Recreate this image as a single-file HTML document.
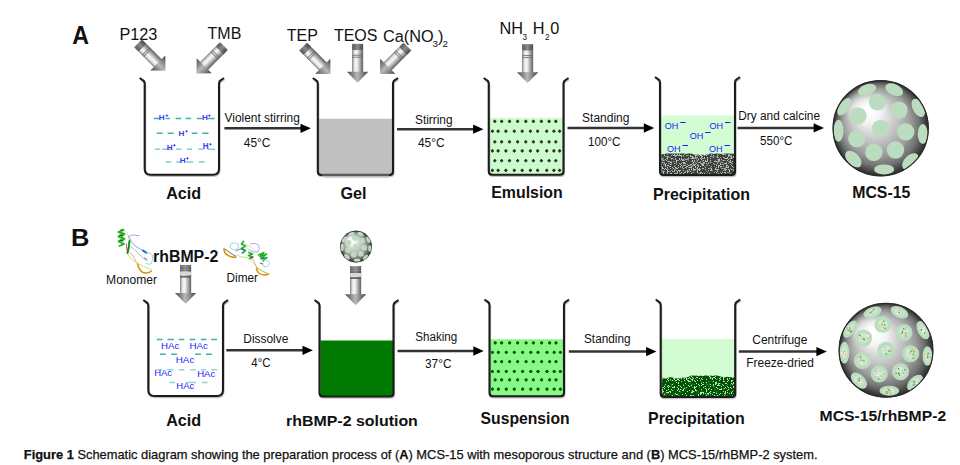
<!DOCTYPE html>
<html><head><meta charset="utf-8"><style>
html,body{margin:0;padding:0;background:#fff;}
body{width:960px;height:465px;overflow:hidden;}
svg{display:block;font-family:"Liberation Sans", sans-serif;}
</style></head><body>
<svg width="960" height="465" viewBox="0 0 960 465">
<defs>
<linearGradient id="gshaft" x1="0" y1="0" x2="1" y2="0">
<stop offset="0" stop-color="#8c8c8c"/><stop offset="0.2" stop-color="#e2e2e2"/><stop offset="0.4" stop-color="#f8f8f8"/><stop offset="0.62" stop-color="#c6c6c6"/><stop offset="0.85" stop-color="#8a8a8a"/><stop offset="1" stop-color="#5a5a5a"/>
</linearGradient>
<linearGradient id="gband" x1="0" y1="0" x2="1" y2="0">
<stop offset="0" stop-color="#5a5a5a"/><stop offset="0.5" stop-color="#8a8a8a"/><stop offset="1" stop-color="#4a4a4a"/>
</linearGradient>
<linearGradient id="ghead" x1="0" y1="0" x2="1" y2="0">
<stop offset="0" stop-color="#4a4a4a"/><stop offset="0.3" stop-color="#8c8c8c"/><stop offset="0.48" stop-color="#b8b8b8"/><stop offset="0.7" stop-color="#8a8a8a"/><stop offset="1" stop-color="#3c3c3c"/>
</linearGradient>
<g id="garrow">
<rect x="-5.35" y="0" width="10.7" height="28.5" fill="url(#gshaft)" stroke="#777" stroke-width="0.5"/>
<rect x="-5.35" y="0" width="10.7" height="6" rx="1.5" fill="url(#gband)"/>
<rect x="-5.35" y="10.6" width="10.7" height="1" fill="#6a6a6a" opacity="0.85"/>
<rect x="-5.35" y="12.6" width="10.7" height="1" fill="#6a6a6a" opacity="0.85"/>
<polygon points="-10.65,27.7 10.65,27.7 0,38.6" fill="url(#ghead)"/>
</g>
<g id="garrowB">
<rect x="-5.35" y="0" width="10.7" height="28.5" fill="url(#gshaft)" stroke="#777" stroke-width="0.5"/>
<rect x="-5.35" y="0" width="10.7" height="6.4" fill="url(#gband)"/>
<rect x="-5.35" y="1.2" width="10.7" height="0.8" fill="#aaa" opacity="0.7"/>
<rect x="-5.35" y="3.6" width="10.7" height="0.8" fill="#aaa" opacity="0.7"/>
<rect x="-5.35" y="6.4" width="10.7" height="3.8" fill="#d8d8d8"/>
<rect x="-5.35" y="10.6" width="10.7" height="1.8" fill="#5a5a5a" opacity="0.9"/>
<polygon points="-10.65,27.7 10.65,27.7 0,38.6" fill="url(#ghead)"/>
</g>
<radialGradient id="gsph" cx="0.5" cy="0.5" r="0.5" fx="0.36" fy="0.3">
<stop offset="0" stop-color="#ffffff"/><stop offset="0.22" stop-color="#f0f0f0"/><stop offset="0.48" stop-color="#c4c4c4"/><stop offset="0.7" stop-color="#9c9c9c"/><stop offset="0.85" stop-color="#707070"/><stop offset="0.94" stop-color="#454545"/><stop offset="1" stop-color="#2a2a2a"/>
</radialGradient>
<filter id="soft" x="-5%" y="-5%" width="110%" height="110%"><feGaussianBlur stdDeviation="0.35"/></filter>
<filter id="hblur" x="-50%" y="-50%" width="200%" height="200%"><feGaussianBlur stdDeviation="4"/></filter>
<filter id="pblur" x="-20%" y="-20%" width="140%" height="140%"><feGaussianBlur stdDeviation="0.3"/></filter>
<clipPath id="sclip"><circle cx="0" cy="0" r="48"/></clipPath>
<g id="sphere">
<circle cx="0" cy="0" r="48" fill="url(#gsph)"/>
<ellipse cx="-17" cy="-19" rx="17" ry="13" fill="#fff" opacity="0.6" filter="url(#hblur)"/>
<g clip-path="url(#sclip)" fill="#bcdcbf">
<ellipse cx="-13.7" cy="-38.5" rx="9.5" ry="5.2" transform="rotate(-20 -13.7 -38.5)"/>
<ellipse cx="13.6" cy="-38.5" rx="9.5" ry="5.5" transform="rotate(25 13.6 -38.5)"/>
<ellipse cx="-36.5" cy="-21.4" rx="5" ry="10" transform="rotate(35 -36.5 -21.4)"/>
<circle cx="-3.4" cy="-26.0" r="8.4"/>
<circle cx="-22.8" cy="-12.3" r="8.7"/>
<circle cx="18.2" cy="-18.0" r="8.7"/>
<ellipse cx="37.6" cy="-20.3" rx="5.5" ry="10" transform="rotate(-28 37.6 -20.3)"/>
<ellipse cx="-42.2" cy="2.5" rx="5" ry="11" transform="rotate(0 -42.2 2.5)"/>
<circle cx="0.0" cy="0.2" r="8.7"/>
<circle cx="25.0" cy="3.6" r="8.7"/>
<ellipse cx="42.1" cy="5.9" rx="5" ry="10" transform="rotate(0 42.1 5.9)"/>
<circle cx="-23.9" cy="10.4" r="8.7"/>
<circle cx="-6.9" cy="24.1" r="8.7"/>
<circle cx="14.8" cy="21.8" r="8.7"/>
<ellipse cx="-27.4" cy="30.9" rx="10" ry="6" transform="rotate(45 -27.4 30.9)"/>
<ellipse cx="29.6" cy="33.2" rx="10" ry="6" transform="rotate(-45 29.6 33.2)"/>
<ellipse cx="3.4" cy="41.2" rx="10" ry="5" transform="rotate(0 3.4 41.2)"/>
</g>
<circle cx="0" cy="0" r="47.6" fill="none" stroke="#2a2a2a" stroke-width="1.2"/>
</g>
</defs>

<text x="72.27" y="44.25" font-size="24.90" font-weight="bold" textLength="16.74" lengthAdjust="spacingAndGlyphs" fill="#111">A</text>
<text x="119.4" y="40" font-size="16.3" fill="#111">P123</text>
<text x="207.6" y="39" font-size="16" fill="#111">TMB</text>
<text x="286.8" y="40.8" font-size="16" fill="#111">TEP</text>
<text x="333.9" y="40.8" font-size="16" textLength="43.5" lengthAdjust="spacingAndGlyphs" fill="#111">TEOS</text>
<text x="383" y="41.8" font-size="16.3" fill="#111">Ca(NO</text>
<text x="432.6" y="46.8" font-size="9.8" fill="#111">3</text>
<text x="438" y="41.8" font-size="16.3" fill="#111">)</text>
<text x="442.6" y="46.8" font-size="9.8" fill="#111">2</text>
<text x="499.4" y="34" font-size="16.3" fill="#111">NH</text>
<text x="522.4" y="39.8" font-size="8.2" fill="#111">3</text>
<text x="532.7" y="34" font-size="16.3" fill="#111">H</text>
<text x="544.9" y="39.8" font-size="8.2" fill="#111">2</text>
<text x="550.3" y="34" font-size="16.3" fill="#111">0</text>
<use href="#garrow" transform="translate(138.2,43.5) rotate(-45)"/>
<use href="#garrow" transform="translate(223.8,46.2) rotate(45)"/>
<use href="#garrow" transform="translate(303.2,46.7) rotate(-45)"/>
<use href="#garrow" transform="translate(407.3,46.7) rotate(45)"/>
<use href="#garrow" transform="translate(357.6,44.1) rotate(0)"/>
<use href="#garrow" transform="translate(527.6,44.5) rotate(0)"/>
<path d="M139.7,78 L142.5,80 Q144.7,81.2 144.7,83.5 L144.7,168.7 Q144.7,174.7 150.7,174.7 L213,174.7 Q219,174.7 219,168.7 L219,83.5 Q219,81.2 221.2,80 L224,78" transform="translate(0.6,1.2)" fill="none" stroke="#9a9a9a" stroke-width="2" opacity="0.6"/><path d="M139.7,78 L142.5,80 Q144.7,81.2 144.7,83.5 L144.7,168.7 Q144.7,174.7 150.7,174.7 L213,174.7 Q219,174.7 219,168.7 L219,83.5 Q219,81.2 221.2,80 L224,78" fill="none" stroke="#1c1c1c" stroke-width="2.1" stroke-linejoin="round"/>
<path d="M153.8,118.6H160M165.6,118.6H170M175.6,118.6H181.2M185.6,118.6H191.2M196.9,118.6H202.5M207.5,118.6H214.6M156.8,133.3H162.6M167.6,133.3H173.7M191.7,133.3H197.4M202.2,133.3H208.5" stroke="#3fb0b0" stroke-width="1.5" fill="none"/>
<path d="M155,149.2H159.8M162.2,149.2H167.2M167.2,149.2H172.6M176.2,149.2H181.6M187,149.2H192M198.3,149.2H203.3M207.8,149.2H215M165.8,161.9H171.2M176.2,161.9H181.2M186.1,161.9H193.4M198.8,161.9H204.7" stroke="#6cc4c4" stroke-width="1.5" fill="none" opacity="0.85"/>
<text x="158.85" y="120" font-size="7.82" font-weight="bold" fill="#3b3bf6" textLength="5.9" lengthAdjust="spacingAndGlyphs">H</text><path d="M165.70000000000002,115.6H168.1M166.9,114.39999999999999V116.8" stroke="#3030ff" stroke-width="0.85"/>
<text x="201.95" y="120" font-size="7.82" font-weight="bold" fill="#3b3bf6" textLength="5.9" lengthAdjust="spacingAndGlyphs">H</text><path d="M208.20000000000002,115.6H210.6M209.4,114.39999999999999V116.8" stroke="#3030ff" stroke-width="0.85"/>
<text x="178.54999999999998" y="135.8" font-size="8.10" font-weight="bold" fill="#3b3bf6" textLength="5.9" lengthAdjust="spacingAndGlyphs">H</text><path d="M185.4,131.3H187.79999999999998M186.6,130.10000000000002V132.5" stroke="#3030ff" stroke-width="0.85"/>
<text x="166.64999999999998" y="149.8" font-size="8.10" font-weight="bold" fill="#3b3bf6" textLength="5.9" lengthAdjust="spacingAndGlyphs">H</text><path d="M173.20000000000002,145.3H175.6M174.4,144.10000000000002V146.5" stroke="#3030ff" stroke-width="0.85"/>
<text x="202.75" y="148.9" font-size="8.24" font-weight="bold" fill="#3b3bf6" textLength="5.9" lengthAdjust="spacingAndGlyphs">H</text><path d="M209.3,144.3H211.7M210.5,143.10000000000002V145.5" stroke="#3030ff" stroke-width="0.85"/>
<text x="179.75" y="162.9" font-size="8.10" font-weight="bold" fill="#3b3bf6" textLength="5.9" lengthAdjust="spacingAndGlyphs">H</text><path d="M186.3,158.4H188.7M187.5,157.20000000000002V159.6" stroke="#3030ff" stroke-width="0.85"/>
<line x1="224.4" y1="128.3" x2="301.5" y2="128.3" stroke="#333" stroke-width="2.5"/><polygon points="300.5,123.65 310.9,128.3 300.5,132.95000000000002" fill="#000"/>
<text x="224.5" y="121.9" font-size="12" textLength="75.3" lengthAdjust="spacingAndGlyphs" fill="#111">Violent stirring</text>
<text x="243.8" y="147.3" font-size="12" textLength="26.7" lengthAdjust="spacingAndGlyphs" fill="#111">45°C</text>
<path d="M317.8,118.8 L393,118.8 L393,171.5 Q393,175 389.5,175 L321.3,175 Q317.8,175 317.8,171.5 Z" fill="#c0c0c0"/><path d="M312.8,78 L315.6,80 Q317.8,81.2 317.8,83.5 L317.8,171.5 Q317.8,175 321.3,175 L389.5,175 Q393,175 393,171.5 L393,83.5 Q393,81.2 395.2,80 L398,78" transform="translate(0.6,1.2)" fill="none" stroke="#9a9a9a" stroke-width="2" opacity="0.6"/><path d="M312.8,78 L315.6,80 Q317.8,81.2 317.8,83.5 L317.8,171.5 Q317.8,175 321.3,175 L389.5,175 Q393,175 393,171.5 L393,83.5 Q393,81.2 395.2,80 L398,78" fill="none" stroke="#1c1c1c" stroke-width="2.1" stroke-linejoin="round"/>
<path d="M322,174.9H389" stroke="#5a5a5a" stroke-width="2.2"/><path d="M324,176.9H389" stroke="#b8b8b8" stroke-width="1.2"/>
<line x1="397" y1="129.2" x2="474.1" y2="129.2" stroke="#333" stroke-width="2.5"/><polygon points="473.1,124.54999999999998 483.5,129.2 473.1,133.85" fill="#000"/>
<text x="415" y="124.1" font-size="12" textLength="37.5" lengthAdjust="spacingAndGlyphs" fill="#111">Stirring</text>
<text x="418" y="147" font-size="12" textLength="26.5" lengthAdjust="spacingAndGlyphs" fill="#111">45°C</text>
<path d="M488.75,118 L563.5,118 L563.5,171.3 Q563.5,174.8 560.0,174.8 L492.25,174.8 Q488.75,174.8 488.75,171.3 Z" fill="#ccfccc"/><g fill="#333"><path d="M493.2,121.4h3.2M494.8,119.80000000000001v3.2" stroke="#333" stroke-width="1.3"/><circle cx="494.8" cy="121.4" r="1.3"/><path d="M500.0,121.4h3.2M501.6,119.80000000000001v3.2" stroke="#333" stroke-width="1.3"/><circle cx="501.6" cy="121.4" r="1.3"/><path d="M507.9,121.4h3.2M509.5,119.80000000000001v3.2" stroke="#333" stroke-width="1.3"/><circle cx="509.5" cy="121.4" r="1.3"/><path d="M516.0,121.4h3.2M517.6,119.80000000000001v3.2" stroke="#333" stroke-width="1.3"/><circle cx="517.6" cy="121.4" r="1.3"/><path d="M524.1999999999999,121.4h3.2M525.8,119.80000000000001v3.2" stroke="#333" stroke-width="1.3"/><circle cx="525.8" cy="121.4" r="1.3"/><path d="M531.8,121.4h3.2M533.4,119.80000000000001v3.2" stroke="#333" stroke-width="1.3"/><circle cx="533.4" cy="121.4" r="1.3"/><path d="M539.8,121.4h3.2M541.4,119.80000000000001v3.2" stroke="#333" stroke-width="1.3"/><circle cx="541.4" cy="121.4" r="1.3"/><path d="M547.5,121.4h3.2M549.1,119.80000000000001v3.2" stroke="#333" stroke-width="1.3"/><circle cx="549.1" cy="121.4" r="1.3"/><path d="M554.1999999999999,121.4h3.2M555.8,119.80000000000001v3.2" stroke="#333" stroke-width="1.3"/><circle cx="555.8" cy="121.4" r="1.3"/><path d="M490.79999999999995,131.2h3.2M492.4,129.6v3.2" stroke="#333" stroke-width="1.3"/><circle cx="492.4" cy="131.2" r="1.3"/><path d="M496.5,131.2h3.2M498.1,129.6v3.2" stroke="#333" stroke-width="1.3"/><circle cx="498.1" cy="131.2" r="1.3"/><path d="M504.29999999999995,131.2h3.2M505.9,129.6v3.2" stroke="#333" stroke-width="1.3"/><circle cx="505.9" cy="131.2" r="1.3"/><path d="M512.6999999999999,131.2h3.2M514.3,129.6v3.2" stroke="#333" stroke-width="1.3"/><circle cx="514.3" cy="131.2" r="1.3"/><path d="M520.6,131.2h3.2M522.2,129.6v3.2" stroke="#333" stroke-width="1.3"/><circle cx="522.2" cy="131.2" r="1.3"/><path d="M528.8,131.2h3.2M530.4,129.6v3.2" stroke="#333" stroke-width="1.3"/><circle cx="530.4" cy="131.2" r="1.3"/><path d="M536.0,131.2h3.2M537.6,129.6v3.2" stroke="#333" stroke-width="1.3"/><circle cx="537.6" cy="131.2" r="1.3"/><path d="M545.1,131.2h3.2M546.7,129.6v3.2" stroke="#333" stroke-width="1.3"/><circle cx="546.7" cy="131.2" r="1.3"/><path d="M552.3,131.2h3.2M553.9,129.6v3.2" stroke="#333" stroke-width="1.3"/><circle cx="553.9" cy="131.2" r="1.3"/><path d="M558.0,131.2h3.2M559.6,129.6v3.2" stroke="#333" stroke-width="1.3"/><circle cx="559.6" cy="131.2" r="1.3"/><path d="M493.2,141.8h3.2M494.8,140.20000000000002v3.2" stroke="#333" stroke-width="1.3"/><circle cx="494.8" cy="141.8" r="1.3"/><path d="M500.0,141.8h3.2M501.6,140.20000000000002v3.2" stroke="#333" stroke-width="1.3"/><circle cx="501.6" cy="141.8" r="1.3"/><path d="M507.9,141.8h3.2M509.5,140.20000000000002v3.2" stroke="#333" stroke-width="1.3"/><circle cx="509.5" cy="141.8" r="1.3"/><path d="M516.0,141.8h3.2M517.6,140.20000000000002v3.2" stroke="#333" stroke-width="1.3"/><circle cx="517.6" cy="141.8" r="1.3"/><path d="M524.1999999999999,141.8h3.2M525.8,140.20000000000002v3.2" stroke="#333" stroke-width="1.3"/><circle cx="525.8" cy="141.8" r="1.3"/><path d="M531.8,141.8h3.2M533.4,140.20000000000002v3.2" stroke="#333" stroke-width="1.3"/><circle cx="533.4" cy="141.8" r="1.3"/><path d="M539.8,141.8h3.2M541.4,140.20000000000002v3.2" stroke="#333" stroke-width="1.3"/><circle cx="541.4" cy="141.8" r="1.3"/><path d="M547.5,141.8h3.2M549.1,140.20000000000002v3.2" stroke="#333" stroke-width="1.3"/><circle cx="549.1" cy="141.8" r="1.3"/><path d="M554.1999999999999,141.8h3.2M555.8,140.20000000000002v3.2" stroke="#333" stroke-width="1.3"/><circle cx="555.8" cy="141.8" r="1.3"/><path d="M490.79999999999995,150.9h3.2M492.4,149.3v3.2" stroke="#333" stroke-width="1.3"/><circle cx="492.4" cy="150.9" r="1.3"/><path d="M496.5,150.9h3.2M498.1,149.3v3.2" stroke="#333" stroke-width="1.3"/><circle cx="498.1" cy="150.9" r="1.3"/><path d="M504.29999999999995,150.9h3.2M505.9,149.3v3.2" stroke="#333" stroke-width="1.3"/><circle cx="505.9" cy="150.9" r="1.3"/><path d="M512.6999999999999,150.9h3.2M514.3,149.3v3.2" stroke="#333" stroke-width="1.3"/><circle cx="514.3" cy="150.9" r="1.3"/><path d="M520.6,150.9h3.2M522.2,149.3v3.2" stroke="#333" stroke-width="1.3"/><circle cx="522.2" cy="150.9" r="1.3"/><path d="M528.8,150.9h3.2M530.4,149.3v3.2" stroke="#333" stroke-width="1.3"/><circle cx="530.4" cy="150.9" r="1.3"/><path d="M536.0,150.9h3.2M537.6,149.3v3.2" stroke="#333" stroke-width="1.3"/><circle cx="537.6" cy="150.9" r="1.3"/><path d="M545.1,150.9h3.2M546.7,149.3v3.2" stroke="#333" stroke-width="1.3"/><circle cx="546.7" cy="150.9" r="1.3"/><path d="M552.3,150.9h3.2M553.9,149.3v3.2" stroke="#333" stroke-width="1.3"/><circle cx="553.9" cy="150.9" r="1.3"/><path d="M558.0,150.9h3.2M559.6,149.3v3.2" stroke="#333" stroke-width="1.3"/><circle cx="559.6" cy="150.9" r="1.3"/><path d="M493.2,160.7h3.2M494.8,159.1v3.2" stroke="#333" stroke-width="1.3"/><circle cx="494.8" cy="160.7" r="1.3"/><path d="M500.0,160.7h3.2M501.6,159.1v3.2" stroke="#333" stroke-width="1.3"/><circle cx="501.6" cy="160.7" r="1.3"/><path d="M507.9,160.7h3.2M509.5,159.1v3.2" stroke="#333" stroke-width="1.3"/><circle cx="509.5" cy="160.7" r="1.3"/><path d="M516.0,160.7h3.2M517.6,159.1v3.2" stroke="#333" stroke-width="1.3"/><circle cx="517.6" cy="160.7" r="1.3"/><path d="M524.1999999999999,160.7h3.2M525.8,159.1v3.2" stroke="#333" stroke-width="1.3"/><circle cx="525.8" cy="160.7" r="1.3"/><path d="M531.8,160.7h3.2M533.4,159.1v3.2" stroke="#333" stroke-width="1.3"/><circle cx="533.4" cy="160.7" r="1.3"/><path d="M539.8,160.7h3.2M541.4,159.1v3.2" stroke="#333" stroke-width="1.3"/><circle cx="541.4" cy="160.7" r="1.3"/><path d="M547.5,160.7h3.2M549.1,159.1v3.2" stroke="#333" stroke-width="1.3"/><circle cx="549.1" cy="160.7" r="1.3"/><path d="M554.1999999999999,160.7h3.2M555.8,159.1v3.2" stroke="#333" stroke-width="1.3"/><circle cx="555.8" cy="160.7" r="1.3"/><path d="M490.79999999999995,170.4h3.2M492.4,168.8v3.2" stroke="#333" stroke-width="1.3"/><circle cx="492.4" cy="170.4" r="1.3"/><path d="M496.5,170.4h3.2M498.1,168.8v3.2" stroke="#333" stroke-width="1.3"/><circle cx="498.1" cy="170.4" r="1.3"/><path d="M504.29999999999995,170.4h3.2M505.9,168.8v3.2" stroke="#333" stroke-width="1.3"/><circle cx="505.9" cy="170.4" r="1.3"/><path d="M512.6999999999999,170.4h3.2M514.3,168.8v3.2" stroke="#333" stroke-width="1.3"/><circle cx="514.3" cy="170.4" r="1.3"/><path d="M520.6,170.4h3.2M522.2,168.8v3.2" stroke="#333" stroke-width="1.3"/><circle cx="522.2" cy="170.4" r="1.3"/><path d="M528.8,170.4h3.2M530.4,168.8v3.2" stroke="#333" stroke-width="1.3"/><circle cx="530.4" cy="170.4" r="1.3"/><path d="M536.0,170.4h3.2M537.6,168.8v3.2" stroke="#333" stroke-width="1.3"/><circle cx="537.6" cy="170.4" r="1.3"/><path d="M545.1,170.4h3.2M546.7,168.8v3.2" stroke="#333" stroke-width="1.3"/><circle cx="546.7" cy="170.4" r="1.3"/><path d="M552.3,170.4h3.2M553.9,168.8v3.2" stroke="#333" stroke-width="1.3"/><circle cx="553.9" cy="170.4" r="1.3"/><path d="M558.0,170.4h3.2M559.6,168.8v3.2" stroke="#333" stroke-width="1.3"/><circle cx="559.6" cy="170.4" r="1.3"/></g><path d="M483.75,78 L486.55,80 Q488.75,81.2 488.75,83.5 L488.75,171.3 Q488.75,174.8 492.25,174.8 L560.0,174.8 Q563.5,174.8 563.5,171.3 L563.5,83.5 Q563.5,81.2 565.7,80 L568.5,78" transform="translate(0.6,1.2)" fill="none" stroke="#9a9a9a" stroke-width="2" opacity="0.6"/><path d="M483.75,78 L486.55,80 Q488.75,81.2 488.75,83.5 L488.75,171.3 Q488.75,174.8 492.25,174.8 L560.0,174.8 Q563.5,174.8 563.5,171.3 L563.5,83.5 Q563.5,81.2 565.7,80 L568.5,78" fill="none" stroke="#1c1c1c" stroke-width="2.1" stroke-linejoin="round"/>
<line x1="567.5" y1="128" x2="644.8000000000001" y2="128" stroke="#333" stroke-width="2.5"/><polygon points="643.8000000000001,123.35 654.2,128 643.8000000000001,132.65" fill="#000"/>
<text x="582.1" y="122" font-size="12" textLength="47.3" lengthAdjust="spacingAndGlyphs" fill="#111">Standing</text>
<text x="588" y="146" font-size="12" textLength="32.5" lengthAdjust="spacingAndGlyphs" fill="#111">100°C</text>
<path d="M660,115.5 L735,115.5 L735,171.5 Q735,175 731.5,175 L663.5,175 Q660,175 660,171.5 Z" fill="#d2fcd2"/><path d="M660,156.5 L660.0,154.7 L662.0,154.1 L664.0,154.3 L666.0,153.6 L668.0,153.6 L670.0,153.5 L672.0,153.5 L674.0,153.5 L676.0,153.5 L678.0,153.5 L680.0,153.5 L682.0,153.5 L684.0,153.5 L686.0,154.1 L688.0,153.5 L690.0,153.5 L692.0,153.7 L694.0,154.5 L696.0,154.7 L698.0,154.5 L700.0,155.3 L702.0,154.5 L704.0,155.2 L706.0,154.8 L708.0,154.2 L710.0,153.5 L712.0,153.5 L714.0,154.1 L716.0,153.5 L718.0,153.6 L720.0,153.9 L722.0,153.7 L724.0,153.8 L726.0,153.5 L728.0,153.5 L730.0,153.5 L732.0,153.8 L734.0,153.7 L735,156.5 L735,171.5 Q735,175 731.5,175 L663.5,175 Q660,175 660,171.5 Z" fill="#404040"/><clipPath id="spc660155"><path d="M660,156.5 L660.0,154.7 L662.0,154.1 L664.0,154.3 L666.0,153.6 L668.0,153.6 L670.0,153.5 L672.0,153.5 L674.0,153.5 L676.0,153.5 L678.0,153.5 L680.0,153.5 L682.0,153.5 L684.0,153.5 L686.0,154.1 L688.0,153.5 L690.0,153.5 L692.0,153.7 L694.0,154.5 L696.0,154.7 L698.0,154.5 L700.0,155.3 L702.0,154.5 L704.0,155.2 L706.0,154.8 L708.0,154.2 L710.0,153.5 L712.0,153.5 L714.0,154.1 L716.0,153.5 L718.0,153.6 L720.0,153.9 L722.0,153.7 L724.0,153.8 L726.0,153.5 L728.0,153.5 L730.0,153.5 L732.0,153.8 L734.0,153.7 L735,156.5 L735,171.5 Q735,175 731.5,175 L663.5,175 Q660,175 660,171.5 Z"/></clipPath><g filter="url(#soft)" clip-path="url(#spc660155)"><path d="M674,154h1v1h-1zM677,154h1v1h-1zM679,154h1v1h-1zM693,154h1v1h-1zM701,154h1v1h-1zM703,154h1v1h-1zM704,154h1v1h-1zM705,154h1v1h-1zM707,154h1v1h-1zM711,154h1v1h-1zM722,154h1v1h-1zM723,154h1v1h-1zM729,154h1v1h-1zM664,155h1v1h-1zM671,155h1v1h-1zM673,155h1v1h-1zM674,155h1v1h-1zM675,155h1v1h-1zM676,155h1v1h-1zM678,155h1v1h-1zM679,155h1v1h-1zM680,155h1v1h-1zM681,155h1v1h-1zM683,155h1v1h-1zM686,155h1v1h-1zM690,155h1v1h-1zM695,155h1v1h-1zM696,155h1v1h-1zM700,155h1v1h-1zM701,155h1v1h-1zM704,155h1v1h-1zM706,155h1v1h-1zM713,155h1v1h-1zM728,155h1v1h-1zM729,155h1v1h-1zM667,156h1v1h-1zM668,156h1v1h-1zM675,156h1v1h-1zM681,156h1v1h-1zM690,156h1v1h-1zM691,156h1v1h-1zM692,156h1v1h-1zM695,156h1v1h-1zM701,156h1v1h-1zM702,156h1v1h-1zM710,156h1v1h-1zM717,156h1v1h-1zM728,156h1v1h-1zM730,156h1v1h-1zM731,156h1v1h-1zM733,156h1v1h-1zM667,157h1v1h-1zM692,157h1v1h-1zM693,157h1v1h-1zM695,157h1v1h-1zM697,157h1v1h-1zM701,157h1v1h-1zM704,157h1v1h-1zM707,157h1v1h-1zM713,157h1v1h-1zM717,157h1v1h-1zM720,157h1v1h-1zM723,157h1v1h-1zM727,157h1v1h-1zM731,157h1v1h-1zM733,157h1v1h-1zM662,158h1v1h-1zM667,158h1v1h-1zM671,158h1v1h-1zM672,158h1v1h-1zM675,158h1v1h-1zM679,158h1v1h-1zM681,158h1v1h-1zM688,158h1v1h-1zM691,158h1v1h-1zM692,158h1v1h-1zM693,158h1v1h-1zM694,158h1v1h-1zM700,158h1v1h-1zM702,158h1v1h-1zM704,158h1v1h-1zM707,158h1v1h-1zM710,158h1v1h-1zM725,158h1v1h-1zM726,158h1v1h-1zM727,158h1v1h-1zM730,158h1v1h-1zM731,158h1v1h-1zM665,159h1v1h-1zM675,159h1v1h-1zM679,159h1v1h-1zM681,159h1v1h-1zM683,159h1v1h-1zM685,159h1v1h-1zM686,159h1v1h-1zM698,159h1v1h-1zM701,159h1v1h-1zM707,159h1v1h-1zM718,159h1v1h-1zM719,159h1v1h-1zM721,159h1v1h-1zM728,159h1v1h-1zM734,159h1v1h-1zM663,160h1v1h-1zM666,160h1v1h-1zM676,160h1v1h-1zM677,160h1v1h-1zM682,160h1v1h-1zM683,160h1v1h-1zM692,160h1v1h-1zM694,160h1v1h-1zM697,160h1v1h-1zM703,160h1v1h-1zM705,160h1v1h-1zM707,160h1v1h-1zM710,160h1v1h-1zM718,160h1v1h-1zM719,160h1v1h-1zM723,160h1v1h-1zM727,160h1v1h-1zM730,160h1v1h-1zM668,161h1v1h-1zM669,161h1v1h-1zM676,161h1v1h-1zM686,161h1v1h-1zM692,161h1v1h-1zM694,161h1v1h-1zM705,161h1v1h-1zM706,161h1v1h-1zM707,161h1v1h-1zM714,161h1v1h-1zM715,161h1v1h-1zM716,161h1v1h-1zM718,161h1v1h-1zM729,161h1v1h-1zM732,161h1v1h-1zM662,162h1v1h-1zM670,162h1v1h-1zM671,162h1v1h-1zM676,162h1v1h-1zM683,162h1v1h-1zM684,162h1v1h-1zM693,162h1v1h-1zM699,162h1v1h-1zM703,162h1v1h-1zM704,162h1v1h-1zM710,162h1v1h-1zM722,162h1v1h-1zM730,162h1v1h-1zM734,162h1v1h-1zM664,163h1v1h-1zM674,163h1v1h-1zM679,163h1v1h-1zM681,163h1v1h-1zM683,163h1v1h-1zM684,163h1v1h-1zM685,163h1v1h-1zM693,163h1v1h-1zM696,163h1v1h-1zM701,163h1v1h-1zM702,163h1v1h-1zM706,163h1v1h-1zM708,163h1v1h-1zM713,163h1v1h-1zM717,163h1v1h-1zM720,163h1v1h-1zM724,163h1v1h-1zM725,163h1v1h-1zM726,163h1v1h-1zM665,164h1v1h-1zM670,164h1v1h-1zM680,164h1v1h-1zM690,164h1v1h-1zM691,164h1v1h-1zM694,164h1v1h-1zM695,164h1v1h-1zM702,164h1v1h-1zM703,164h1v1h-1zM714,164h1v1h-1zM720,164h1v1h-1zM723,164h1v1h-1zM734,164h1v1h-1zM665,165h1v1h-1zM667,165h1v1h-1zM668,165h1v1h-1zM678,165h1v1h-1zM681,165h1v1h-1zM683,165h1v1h-1zM684,165h1v1h-1zM688,165h1v1h-1zM689,165h1v1h-1zM692,165h1v1h-1zM694,165h1v1h-1zM697,165h1v1h-1zM698,165h1v1h-1zM702,165h1v1h-1zM703,165h1v1h-1zM716,165h1v1h-1zM718,165h1v1h-1zM719,165h1v1h-1zM726,165h1v1h-1zM727,165h1v1h-1zM731,165h1v1h-1zM661,166h1v1h-1zM665,166h1v1h-1zM669,166h1v1h-1zM670,166h1v1h-1zM674,166h1v1h-1zM680,166h1v1h-1zM686,166h1v1h-1zM687,166h1v1h-1zM691,166h1v1h-1zM695,166h1v1h-1zM698,166h1v1h-1zM700,166h1v1h-1zM711,166h1v1h-1zM718,166h1v1h-1zM720,166h1v1h-1zM721,166h1v1h-1zM723,166h1v1h-1zM726,166h1v1h-1zM728,166h1v1h-1zM732,166h1v1h-1zM662,167h1v1h-1zM667,167h1v1h-1zM672,167h1v1h-1zM675,167h1v1h-1zM678,167h1v1h-1zM682,167h1v1h-1zM685,167h1v1h-1zM689,167h1v1h-1zM690,167h1v1h-1zM691,167h1v1h-1zM695,167h1v1h-1zM697,167h1v1h-1zM705,167h1v1h-1zM716,167h1v1h-1zM718,167h1v1h-1zM726,167h1v1h-1zM727,167h1v1h-1zM728,167h1v1h-1zM733,167h1v1h-1zM662,168h1v1h-1zM663,168h1v1h-1zM665,168h1v1h-1zM670,168h1v1h-1zM673,168h1v1h-1zM676,168h1v1h-1zM677,168h1v1h-1zM683,168h1v1h-1zM693,168h1v1h-1zM697,168h1v1h-1zM699,168h1v1h-1zM702,168h1v1h-1zM703,168h1v1h-1zM708,168h1v1h-1zM711,168h1v1h-1zM715,168h1v1h-1zM722,168h1v1h-1zM724,168h1v1h-1zM664,169h1v1h-1zM666,169h1v1h-1zM689,169h1v1h-1zM691,169h1v1h-1zM693,169h1v1h-1zM694,169h1v1h-1zM695,169h1v1h-1zM698,169h1v1h-1zM699,169h1v1h-1zM700,169h1v1h-1zM705,169h1v1h-1zM711,169h1v1h-1zM715,169h1v1h-1zM716,169h1v1h-1zM717,169h1v1h-1zM718,169h1v1h-1zM725,169h1v1h-1zM726,169h1v1h-1zM728,169h1v1h-1zM731,169h1v1h-1zM667,170h1v1h-1zM674,170h1v1h-1zM676,170h1v1h-1zM678,170h1v1h-1zM679,170h1v1h-1zM680,170h1v1h-1zM683,170h1v1h-1zM687,170h1v1h-1zM694,170h1v1h-1zM697,170h1v1h-1zM699,170h1v1h-1zM708,170h1v1h-1zM710,170h1v1h-1zM711,170h1v1h-1zM725,170h1v1h-1zM729,170h1v1h-1zM733,170h1v1h-1zM663,171h1v1h-1zM667,171h1v1h-1zM668,171h1v1h-1zM672,171h1v1h-1zM674,171h1v1h-1zM677,171h1v1h-1zM679,171h1v1h-1zM685,171h1v1h-1zM687,171h1v1h-1zM688,171h1v1h-1zM690,171h1v1h-1zM697,171h1v1h-1zM717,171h1v1h-1zM729,171h1v1h-1zM661,172h1v1h-1zM663,172h1v1h-1zM667,172h1v1h-1zM677,172h1v1h-1zM681,172h1v1h-1zM684,172h1v1h-1zM687,172h1v1h-1zM697,172h1v1h-1zM700,172h1v1h-1zM701,172h1v1h-1zM716,172h1v1h-1zM724,172h1v1h-1zM725,172h1v1h-1zM663,173h1v1h-1zM667,173h1v1h-1zM670,173h1v1h-1zM671,173h1v1h-1zM675,173h1v1h-1zM676,173h1v1h-1zM680,173h1v1h-1zM683,173h1v1h-1zM691,173h1v1h-1zM700,173h1v1h-1zM702,173h1v1h-1zM704,173h1v1h-1zM709,173h1v1h-1zM718,173h1v1h-1zM721,173h1v1h-1zM730,173h1v1h-1zM668,174h1v1h-1zM688,174h1v1h-1zM692,174h1v1h-1zM694,174h1v1h-1zM695,174h1v1h-1zM707,174h1v1h-1zM711,174h1v1h-1zM712,174h1v1h-1zM713,174h1v1h-1zM728,174h1v1h-1zM730,174h1v1h-1zM731,174h1v1h-1z" fill="#b4c2b4"/><path d="M661,154h1v1h-1zM664,154h1v1h-1zM667,154h1v1h-1zM672,154h1v1h-1zM684,154h1v1h-1zM698,154h1v1h-1zM708,154h1v1h-1zM717,154h1v1h-1zM724,154h1v1h-1zM725,154h1v1h-1zM728,154h1v1h-1zM677,155h1v1h-1zM687,155h1v1h-1zM688,155h1v1h-1zM697,155h1v1h-1zM698,155h1v1h-1zM711,155h1v1h-1zM717,155h1v1h-1zM718,155h1v1h-1zM725,155h1v1h-1zM730,155h1v1h-1zM731,155h1v1h-1zM665,156h1v1h-1zM666,156h1v1h-1zM683,156h1v1h-1zM699,156h1v1h-1zM711,156h1v1h-1zM712,156h1v1h-1zM713,156h1v1h-1zM715,156h1v1h-1zM663,157h1v1h-1zM669,157h1v1h-1zM670,157h1v1h-1zM688,157h1v1h-1zM696,157h1v1h-1zM716,157h1v1h-1zM718,157h1v1h-1zM724,157h1v1h-1zM732,157h1v1h-1zM661,158h1v1h-1zM666,158h1v1h-1zM684,158h1v1h-1zM687,158h1v1h-1zM690,158h1v1h-1zM695,158h1v1h-1zM696,158h1v1h-1zM698,158h1v1h-1zM701,158h1v1h-1zM703,158h1v1h-1zM719,158h1v1h-1zM724,158h1v1h-1zM729,158h1v1h-1zM661,159h1v1h-1zM662,159h1v1h-1zM663,159h1v1h-1zM667,159h1v1h-1zM671,159h1v1h-1zM673,159h1v1h-1zM682,159h1v1h-1zM687,159h1v1h-1zM688,159h1v1h-1zM696,159h1v1h-1zM717,159h1v1h-1zM662,160h1v1h-1zM664,160h1v1h-1zM678,160h1v1h-1zM680,160h1v1h-1zM684,160h1v1h-1zM688,160h1v1h-1zM702,160h1v1h-1zM715,160h1v1h-1zM722,160h1v1h-1zM724,160h1v1h-1zM725,160h1v1h-1zM734,160h1v1h-1zM667,161h1v1h-1zM671,161h1v1h-1zM673,161h1v1h-1zM674,161h1v1h-1zM691,161h1v1h-1zM696,161h1v1h-1zM697,161h1v1h-1zM700,161h1v1h-1zM702,161h1v1h-1zM710,161h1v1h-1zM717,161h1v1h-1zM719,161h1v1h-1zM720,161h1v1h-1zM728,161h1v1h-1zM730,161h1v1h-1zM663,162h1v1h-1zM664,162h1v1h-1zM682,162h1v1h-1zM695,162h1v1h-1zM698,162h1v1h-1zM700,162h1v1h-1zM708,162h1v1h-1zM711,162h1v1h-1zM717,162h1v1h-1zM718,162h1v1h-1zM721,162h1v1h-1zM726,162h1v1h-1zM729,162h1v1h-1zM731,162h1v1h-1zM666,163h1v1h-1zM668,163h1v1h-1zM669,163h1v1h-1zM671,163h1v1h-1zM675,163h1v1h-1zM692,163h1v1h-1zM700,163h1v1h-1zM703,163h1v1h-1zM704,163h1v1h-1zM728,163h1v1h-1zM731,163h1v1h-1zM732,163h1v1h-1zM661,164h1v1h-1zM663,164h1v1h-1zM664,164h1v1h-1zM671,164h1v1h-1zM676,164h1v1h-1zM686,164h1v1h-1zM687,164h1v1h-1zM693,164h1v1h-1zM697,164h1v1h-1zM701,164h1v1h-1zM707,164h1v1h-1zM716,164h1v1h-1zM721,164h1v1h-1zM722,164h1v1h-1zM726,164h1v1h-1zM730,164h1v1h-1zM666,165h1v1h-1zM675,165h1v1h-1zM685,165h1v1h-1zM690,165h1v1h-1zM693,165h1v1h-1zM706,165h1v1h-1zM707,165h1v1h-1zM709,165h1v1h-1zM662,166h1v1h-1zM682,166h1v1h-1zM692,166h1v1h-1zM704,166h1v1h-1zM714,166h1v1h-1zM676,167h1v1h-1zM680,167h1v1h-1zM686,167h1v1h-1zM688,167h1v1h-1zM710,167h1v1h-1zM720,167h1v1h-1zM725,167h1v1h-1zM734,167h1v1h-1zM667,168h1v1h-1zM675,168h1v1h-1zM682,168h1v1h-1zM686,168h1v1h-1zM691,168h1v1h-1zM696,168h1v1h-1zM709,168h1v1h-1zM710,168h1v1h-1zM721,168h1v1h-1zM723,168h1v1h-1zM725,168h1v1h-1zM730,168h1v1h-1zM661,169h1v1h-1zM667,169h1v1h-1zM668,169h1v1h-1zM672,169h1v1h-1zM674,169h1v1h-1zM675,169h1v1h-1zM688,169h1v1h-1zM697,169h1v1h-1zM724,169h1v1h-1zM729,169h1v1h-1zM732,169h1v1h-1zM733,169h1v1h-1zM662,170h1v1h-1zM671,170h1v1h-1zM689,170h1v1h-1zM691,170h1v1h-1zM693,170h1v1h-1zM712,170h1v1h-1zM717,170h1v1h-1zM723,170h1v1h-1zM724,170h1v1h-1zM662,171h1v1h-1zM664,171h1v1h-1zM669,171h1v1h-1zM670,171h1v1h-1zM673,171h1v1h-1zM706,171h1v1h-1zM715,171h1v1h-1zM722,171h1v1h-1zM685,172h1v1h-1zM692,172h1v1h-1zM693,172h1v1h-1zM707,172h1v1h-1zM714,172h1v1h-1zM720,172h1v1h-1zM722,172h1v1h-1zM727,172h1v1h-1zM728,172h1v1h-1zM729,172h1v1h-1zM674,173h1v1h-1zM677,173h1v1h-1zM679,173h1v1h-1zM698,173h1v1h-1zM699,173h1v1h-1zM725,173h1v1h-1zM733,173h1v1h-1zM673,174h1v1h-1zM677,174h1v1h-1zM682,174h1v1h-1zM683,174h1v1h-1zM684,174h1v1h-1zM693,174h1v1h-1zM721,174h1v1h-1zM722,174h1v1h-1zM724,174h1v1h-1z" fill="#808880"/></g><text x="664.7" y="128.7" font-size="9.8" fill="#1c1cff" textLength="13.6" lengthAdjust="spacingAndGlyphs">OH</text><rect x="680.2" y="122" width="5.5" height="1" fill="#1c1cff"/><text x="709.5" y="128.7" font-size="9.8" fill="#1c1cff" textLength="13.6" lengthAdjust="spacingAndGlyphs">OH</text><rect x="725" y="122" width="5.5" height="1" fill="#1c1cff"/><text x="689.7" y="138.8" font-size="9.8" fill="#1c1cff" textLength="13.6" lengthAdjust="spacingAndGlyphs">OH</text><rect x="705.2" y="132" width="5.5" height="1" fill="#1c1cff"/><text x="667.0" y="151.5" font-size="9.8" fill="#1c1cff" textLength="13.6" lengthAdjust="spacingAndGlyphs">OH</text><rect x="682.5" y="145" width="5.5" height="1" fill="#1c1cff"/><text x="709.0" y="151.5" font-size="9.8" fill="#1c1cff" textLength="13.6" lengthAdjust="spacingAndGlyphs">OH</text><rect x="724.5" y="145" width="5.5" height="1" fill="#1c1cff"/><path d="M655,77 L657.8,79 Q660,80.2 660,82.5 L660,171.5 Q660,175 663.5,175 L731.5,175 Q735,175 735,171.5 L735,82.5 Q735,80.2 737.2,79 L740,77" transform="translate(0.6,1.2)" fill="none" stroke="#9a9a9a" stroke-width="2" opacity="0.6"/><path d="M655,77 L657.8,79 Q660,80.2 660,82.5 L660,171.5 Q660,175 663.5,175 L731.5,175 Q735,175 735,171.5 L735,82.5 Q735,80.2 737.2,79 L740,77" fill="none" stroke="#1c1c1c" stroke-width="2.1" stroke-linejoin="round"/>
<line x1="737.5" y1="127.9" x2="814.6" y2="127.9" stroke="#333" stroke-width="2.5"/><polygon points="813.6,123.25 824,127.9 813.6,132.55" fill="#000"/>
<text x="738.3" y="119.8" font-size="12" textLength="81.7" lengthAdjust="spacingAndGlyphs" fill="#111">Dry and calcine</text>
<text x="760" y="145" font-size="12" textLength="32.5" lengthAdjust="spacingAndGlyphs" fill="#111">550°C</text>
<use href="#sphere" transform="translate(880.7,128.2)"/>
<text x="166.15" y="199.10" font-size="16.25" font-weight="bold" textLength="34.97" lengthAdjust="spacingAndGlyphs" fill="#111">Acid</text>
<text x="340.49" y="198.80" font-size="16.25" font-weight="bold" textLength="26.11" lengthAdjust="spacingAndGlyphs" fill="#111">Gel</text>
<text x="491.29" y="197.90" font-size="15.81" font-weight="bold" textLength="71.45" lengthAdjust="spacingAndGlyphs" fill="#111">Emulsion</text>
<text x="653.08" y="199.80" font-size="15.89" font-weight="bold" textLength="96.86" lengthAdjust="spacingAndGlyphs" fill="#111">Precipitation</text>
<text x="852.19" y="197.90" font-size="15.81" font-weight="bold" textLength="58.10" lengthAdjust="spacingAndGlyphs" fill="#111">MCS-15</text>
<text x="71.14" y="245.75" font-size="23.44" font-weight="bold" textLength="18.41" lengthAdjust="spacingAndGlyphs" fill="#111">B</text>
<text x="153.10" y="261.90" font-size="15.81" font-weight="bold" textLength="65.18" lengthAdjust="spacingAndGlyphs" fill="#111">rhBMP-2</text>
<text x="106.1" y="283.8" font-size="12.5" textLength="50.9" lengthAdjust="spacingAndGlyphs" fill="#111">Monomer</text>
<text x="226.6" y="281.8" font-size="12.5" textLength="31.4" lengthAdjust="spacingAndGlyphs" fill="#111">Dimer</text>
<g fill="none" stroke-linecap="round" stroke-linejoin="round" filter="url(#pblur)">
<path d="M123.5,229.5 L118.5,232 L124.5,234 L118.5,236.5 L124.5,239 L118.5,241.5 L124,244 L119.5,246" stroke="#22b022" stroke-width="1.9"/>
<path d="M121,230 L123,231 M120,235 L123,236 M120,240 L123,241" stroke="#0c6a0c" stroke-width="1.2"/>
<path d="M124,229.5 Q127,232 128.5,236 Q130,240 129,246 Q128,251 127.2,253.5" stroke="#a8e0a8" stroke-width="0.8"/>
<path d="M129.5,241 Q129,248 127.5,253" stroke="#158a15" stroke-width="2"/>
<path d="M130,235.8 Q133,234.5 135,235 Q137,236 139,235.5" stroke="#9a9ae8" stroke-width="0.9"/>
<path d="M128.5,236 Q131,242 134.5,245.5 Q140,249 146,252.5" stroke="#7a9ad8" stroke-width="0.9"/>
<path d="M143,250.5 L146.5,252.8" stroke="#1060c0" stroke-width="2"/>
<path d="M146,252 Q151,253 152.5,255 Q153,261 151,264 Q148,264.5 146,263.5" stroke="#8ad4e8" stroke-width="0.9"/>
<path d="M129,245 Q135,250 140,255 Q144,259 147,261" stroke="#8ab8b8" stroke-width="0.8"/>
<path d="M126.5,244 Q126,248 127.5,252" stroke="#a04030" stroke-width="0.8"/>
<path d="M129.5,252 Q133,255 134.5,258.5 Q136,262 138,264" stroke="#e0a090" stroke-width="0.9"/>
<path d="M127.5,254 Q131,260 137.5,263.5 Q145,267 151.5,270" stroke="#c8dc50" stroke-width="0.9"/>
<path d="M137.5,264 Q139,270 143,272.5 Q148,274 151.5,271" stroke="#e09020" stroke-width="1.6"/>
<path d="M144.5,258 L147,259.5" stroke="#807070" stroke-width="1"/>
</g>
<g fill="none" stroke-linecap="round" stroke-linejoin="round" filter="url(#pblur)">
<path d="M224,248.5 Q224,254 229,256 Q233,257.5 235.5,257.5" stroke="#e09020" stroke-width="1.7"/>
<path d="M225.5,249.5 Q230,253 236,256.5" stroke="#707030" stroke-width="1"/>
<path d="M232,243 Q229,245 230.5,248 Q233,251 237,249.5 Q239.5,247 238,244 Q236,242.5 232,243" stroke="#90d0e8" stroke-width="0.9"/>
<path d="M236,251 L240,249" stroke="#806060" stroke-width="0.8"/>
<path d="M243.5,241.5 L241.5,244 L245.5,246 L241.5,248.5 L245.5,250.5 L242.5,253" stroke="#22b022" stroke-width="1.7"/>
<path d="M241,249 L244,250" stroke="#2060d0" stroke-width="1.2"/>
<path d="M250.5,244 Q255,242 258.5,245 Q260.5,249 258,252 Q253,253 250,250" stroke="#a0a0e8" stroke-width="0.9"/>
<path d="M249,252.5 L252.5,254 L248.5,255.5 L252.5,257 L249.5,258.7" stroke="#22b022" stroke-width="1.7"/>
<path d="M258.5,255 L264,252.5 L260,256.5 L266.5,254 L261,259 L267,257.5 L263,261" stroke="#22b022" stroke-width="1.6"/>
<path d="M261,257.5 L264,259" stroke="#2060d0" stroke-width="1.2"/>
<path d="M263,259.5 Q269,260 269.5,263.5 Q269,267 265,267 Q262,266 261.5,263" stroke="#90d0e8" stroke-width="0.9"/>
<path d="M236,255 Q242,258 248,257.5 Q254,264 258,268 Q262,271 266,273" stroke="#b8dc60" stroke-width="0.8"/>
<path d="M244,243 Q248,248 250,252 M246,244 Q252,247 256,252" stroke="#b0e0b0" stroke-width="0.8"/>
<path d="M252,258 Q255,262 256,266" stroke="#e0a890" stroke-width="0.9"/>
<path d="M251,258 L253,257" stroke="#903020" stroke-width="1.1"/>
<path d="M256.5,268 Q257,273 261.5,274.5 Q266,275.5 268.5,274" stroke="#e09020" stroke-width="1.6"/>
<path d="M257,268.5 Q262,271.5 268,273.5" stroke="#c8c830" stroke-width="0.9"/>
<path d="M260,263 L263,264" stroke="#807070" stroke-width="1"/>
</g>
<use href="#garrowB" transform="translate(185.6,265.2)"/>
<use href="#garrowB" transform="translate(355.6,266.6)"/>
<use href="#sphere" transform="translate(356,246.6) scale(0.33)"/>
<path d="M143.3,300 L146.10000000000002,302 Q148.3,303.2 148.3,305.5 L148.3,390 Q148.3,396 154.3,396 L217,396 Q223,396 223,390 L223,305.5 Q223,303.2 225.2,302 L228,300" transform="translate(0.6,1.2)" fill="none" stroke="#9a9a9a" stroke-width="2" opacity="0.6"/><path d="M143.3,300 L146.10000000000002,302 Q148.3,303.2 148.3,305.5 L148.3,390 Q148.3,396 154.3,396 L217,396 Q223,396 223,390 L223,305.5 Q223,303.2 225.2,302 L228,300" fill="none" stroke="#1c1c1c" stroke-width="2.1" stroke-linejoin="round"/>
<path d="M156.8,339.6H162.6M167.6,339.6H173.9M178.7,339.6H184.3M189.7,339.6H195.2M200.8,339.6H206.5M211.2,339.6H217M159.9,354.3H165.8M171.2,354.3H177.1M195.2,354.3H201M206,354.3H211.9" stroke="#3fb0b0" stroke-width="1.5" fill="none"/>
<path d="M155.9,369.7H162.2M167.2,369.7H173.9M178.9,369.7H184.3M190.2,369.7H195.6M201,369.7H206M211.4,369.7H217.3M169.4,382.5H175M186,382.5H196.2M201.9,382.5H207.5" stroke="#80cccc" stroke-width="1.5" fill="none" opacity="0.85"/>
<text x="161.0" y="348.9" font-size="9.50" fill="#1c1cff" textLength="18.3" lengthAdjust="spacingAndGlyphs">HAc</text>
<text x="189.6" y="348.9" font-size="9.50" fill="#1c1cff" textLength="18.4" lengthAdjust="spacingAndGlyphs">HAc</text>
<text x="175.8" y="362.9" font-size="9.50" fill="#1c1cff" textLength="18.5" lengthAdjust="spacingAndGlyphs">HAc</text>
<text x="154.15" y="376" font-size="9.78" fill="#1c1cff" textLength="18.0" lengthAdjust="spacingAndGlyphs">HAc</text>
<text x="197.15" y="377" font-size="9.22" fill="#1c1cff" textLength="18.1" lengthAdjust="spacingAndGlyphs">HAc</text>
<text x="176.3" y="388.9" font-size="9.36" fill="#1c1cff" textLength="17.9" lengthAdjust="spacingAndGlyphs">HAc</text>
<line x1="226.3" y1="350.3" x2="303.5" y2="350.3" stroke="#333" stroke-width="2.5"/><polygon points="302.5,345.65000000000003 312.9,350.3 302.5,354.95" fill="#000"/>
<text x="243.3" y="342.9" font-size="12" textLength="45" lengthAdjust="spacingAndGlyphs" fill="#111">Dissolve</text>
<text x="251.3" y="366.8" font-size="12" textLength="19.2" lengthAdjust="spacingAndGlyphs" fill="#111">4°C</text>
<path d="M319.5,340.5 L393.5,340.5 L393.5,393.0 Q393.5,396.5 390.0,396.5 L323.0,396.5 Q319.5,396.5 319.5,393.0 Z" fill="#007a00"/><path d="M314.5,300 L317.3,302 Q319.5,303.2 319.5,305.5 L319.5,393.0 Q319.5,396.5 323.0,396.5 L390.0,396.5 Q393.5,396.5 393.5,393.0 L393.5,305.5 Q393.5,303.2 395.7,302 L398.5,300" transform="translate(0.6,1.2)" fill="none" stroke="#9a9a9a" stroke-width="2" opacity="0.6"/><path d="M314.5,300 L317.3,302 Q319.5,303.2 319.5,305.5 L319.5,393.0 Q319.5,396.5 323.0,396.5 L390.0,396.5 Q393.5,396.5 393.5,393.0 L393.5,305.5 Q393.5,303.2 395.7,302 L398.5,300" fill="none" stroke="#1c1c1c" stroke-width="2.1" stroke-linejoin="round"/>
<line x1="397.5" y1="351" x2="474.3" y2="351" stroke="#333" stroke-width="2.5"/><polygon points="473.3,346.35 483.7,351 473.3,355.65" fill="#000"/>
<text x="415.2" y="340.9" font-size="12" textLength="42.1" lengthAdjust="spacingAndGlyphs" fill="#111">Shaking</text>
<text x="425" y="367.8" font-size="12" textLength="26.5" lengthAdjust="spacingAndGlyphs" fill="#111">37°C</text>
<path d="M489.5,339.2 L564,339.2 L564,392.8 Q564,396.3 560.5,396.3 L493.0,396.3 Q489.5,396.3 489.5,392.8 Z" fill="#88f888"/><g fill="#006000"><path d="M493.59999999999997,342.9h3.2M495.2,341.29999999999995v3.2" stroke="#006400" stroke-width="1.3"/><circle cx="495.2" cy="342.9" r="1.4"/><path d="M500.0,342.9h3.2M501.6,341.29999999999995v3.2" stroke="#006400" stroke-width="1.3"/><circle cx="501.6" cy="342.9" r="1.4"/><path d="M508.0,342.9h3.2M509.6,341.29999999999995v3.2" stroke="#006400" stroke-width="1.3"/><circle cx="509.6" cy="342.9" r="1.4"/><path d="M516.0,342.9h3.2M517.6,341.29999999999995v3.2" stroke="#006400" stroke-width="1.3"/><circle cx="517.6" cy="342.9" r="1.4"/><path d="M524.5,342.9h3.2M526.1,341.29999999999995v3.2" stroke="#006400" stroke-width="1.3"/><circle cx="526.1" cy="342.9" r="1.4"/><path d="M531.8,342.9h3.2M533.4,341.29999999999995v3.2" stroke="#006400" stroke-width="1.3"/><circle cx="533.4" cy="342.9" r="1.4"/><path d="M540.0,342.9h3.2M541.6,341.29999999999995v3.2" stroke="#006400" stroke-width="1.3"/><circle cx="541.6" cy="342.9" r="1.4"/><path d="M548.0,342.9h3.2M549.6,341.29999999999995v3.2" stroke="#006400" stroke-width="1.3"/><circle cx="549.6" cy="342.9" r="1.4"/><path d="M554.4,342.9h3.2M556,341.29999999999995v3.2" stroke="#006400" stroke-width="1.3"/><circle cx="556" cy="342.9" r="1.4"/><path d="M490.79999999999995,352.4h3.2M492.4,350.79999999999995v3.2" stroke="#006400" stroke-width="1.3"/><circle cx="492.4" cy="352.4" r="1.4"/><path d="M496.79999999999995,352.4h3.2M498.4,350.79999999999995v3.2" stroke="#006400" stroke-width="1.3"/><circle cx="498.4" cy="352.4" r="1.4"/><path d="M504.7,352.4h3.2M506.3,350.79999999999995v3.2" stroke="#006400" stroke-width="1.3"/><circle cx="506.3" cy="352.4" r="1.4"/><path d="M512.6999999999999,352.4h3.2M514.3,350.79999999999995v3.2" stroke="#006400" stroke-width="1.3"/><circle cx="514.3" cy="352.4" r="1.4"/><path d="M521.0,352.4h3.2M522.6,350.79999999999995v3.2" stroke="#006400" stroke-width="1.3"/><circle cx="522.6" cy="352.4" r="1.4"/><path d="M529.1999999999999,352.4h3.2M530.8,350.79999999999995v3.2" stroke="#006400" stroke-width="1.3"/><circle cx="530.8" cy="352.4" r="1.4"/><path d="M536.4,352.4h3.2M538,350.79999999999995v3.2" stroke="#006400" stroke-width="1.3"/><circle cx="538" cy="352.4" r="1.4"/><path d="M545.4,352.4h3.2M547,350.79999999999995v3.2" stroke="#006400" stroke-width="1.3"/><circle cx="547" cy="352.4" r="1.4"/><path d="M552.6,352.4h3.2M554.2,350.79999999999995v3.2" stroke="#006400" stroke-width="1.3"/><circle cx="554.2" cy="352.4" r="1.4"/><path d="M558.8,352.4h3.2M560.4,350.79999999999995v3.2" stroke="#006400" stroke-width="1.3"/><circle cx="560.4" cy="352.4" r="1.4"/><path d="M493.59999999999997,361.7h3.2M495.2,360.09999999999997v3.2" stroke="#006400" stroke-width="1.3"/><circle cx="495.2" cy="361.7" r="1.4"/><path d="M500.0,361.7h3.2M501.6,360.09999999999997v3.2" stroke="#006400" stroke-width="1.3"/><circle cx="501.6" cy="361.7" r="1.4"/><path d="M508.0,361.7h3.2M509.6,360.09999999999997v3.2" stroke="#006400" stroke-width="1.3"/><circle cx="509.6" cy="361.7" r="1.4"/><path d="M516.0,361.7h3.2M517.6,360.09999999999997v3.2" stroke="#006400" stroke-width="1.3"/><circle cx="517.6" cy="361.7" r="1.4"/><path d="M524.5,361.7h3.2M526.1,360.09999999999997v3.2" stroke="#006400" stroke-width="1.3"/><circle cx="526.1" cy="361.7" r="1.4"/><path d="M531.8,361.7h3.2M533.4,360.09999999999997v3.2" stroke="#006400" stroke-width="1.3"/><circle cx="533.4" cy="361.7" r="1.4"/><path d="M540.0,361.7h3.2M541.6,360.09999999999997v3.2" stroke="#006400" stroke-width="1.3"/><circle cx="541.6" cy="361.7" r="1.4"/><path d="M548.0,361.7h3.2M549.6,360.09999999999997v3.2" stroke="#006400" stroke-width="1.3"/><circle cx="549.6" cy="361.7" r="1.4"/><path d="M554.4,361.7h3.2M556,360.09999999999997v3.2" stroke="#006400" stroke-width="1.3"/><circle cx="556" cy="361.7" r="1.4"/><path d="M490.79999999999995,371.5h3.2M492.4,369.9v3.2" stroke="#006400" stroke-width="1.3"/><circle cx="492.4" cy="371.5" r="1.4"/><path d="M496.79999999999995,371.5h3.2M498.4,369.9v3.2" stroke="#006400" stroke-width="1.3"/><circle cx="498.4" cy="371.5" r="1.4"/><path d="M504.7,371.5h3.2M506.3,369.9v3.2" stroke="#006400" stroke-width="1.3"/><circle cx="506.3" cy="371.5" r="1.4"/><path d="M512.6999999999999,371.5h3.2M514.3,369.9v3.2" stroke="#006400" stroke-width="1.3"/><circle cx="514.3" cy="371.5" r="1.4"/><path d="M521.0,371.5h3.2M522.6,369.9v3.2" stroke="#006400" stroke-width="1.3"/><circle cx="522.6" cy="371.5" r="1.4"/><path d="M529.1999999999999,371.5h3.2M530.8,369.9v3.2" stroke="#006400" stroke-width="1.3"/><circle cx="530.8" cy="371.5" r="1.4"/><path d="M536.4,371.5h3.2M538,369.9v3.2" stroke="#006400" stroke-width="1.3"/><circle cx="538" cy="371.5" r="1.4"/><path d="M545.4,371.5h3.2M547,369.9v3.2" stroke="#006400" stroke-width="1.3"/><circle cx="547" cy="371.5" r="1.4"/><path d="M552.6,371.5h3.2M554.2,369.9v3.2" stroke="#006400" stroke-width="1.3"/><circle cx="554.2" cy="371.5" r="1.4"/><path d="M558.8,371.5h3.2M560.4,369.9v3.2" stroke="#006400" stroke-width="1.3"/><circle cx="560.4" cy="371.5" r="1.4"/><path d="M493.59999999999997,379.8h3.2M495.2,378.2v3.2" stroke="#006400" stroke-width="1.3"/><circle cx="495.2" cy="379.8" r="1.4"/><path d="M500.0,379.8h3.2M501.6,378.2v3.2" stroke="#006400" stroke-width="1.3"/><circle cx="501.6" cy="379.8" r="1.4"/><path d="M508.0,379.8h3.2M509.6,378.2v3.2" stroke="#006400" stroke-width="1.3"/><circle cx="509.6" cy="379.8" r="1.4"/><path d="M516.0,379.8h3.2M517.6,378.2v3.2" stroke="#006400" stroke-width="1.3"/><circle cx="517.6" cy="379.8" r="1.4"/><path d="M524.5,379.8h3.2M526.1,378.2v3.2" stroke="#006400" stroke-width="1.3"/><circle cx="526.1" cy="379.8" r="1.4"/><path d="M531.8,379.8h3.2M533.4,378.2v3.2" stroke="#006400" stroke-width="1.3"/><circle cx="533.4" cy="379.8" r="1.4"/><path d="M540.0,379.8h3.2M541.6,378.2v3.2" stroke="#006400" stroke-width="1.3"/><circle cx="541.6" cy="379.8" r="1.4"/><path d="M548.0,379.8h3.2M549.6,378.2v3.2" stroke="#006400" stroke-width="1.3"/><circle cx="549.6" cy="379.8" r="1.4"/><path d="M554.4,379.8h3.2M556,378.2v3.2" stroke="#006400" stroke-width="1.3"/><circle cx="556" cy="379.8" r="1.4"/><path d="M490.79999999999995,389.2h3.2M492.4,387.59999999999997v3.2" stroke="#006400" stroke-width="1.3"/><circle cx="492.4" cy="389.2" r="1.4"/><path d="M496.79999999999995,389.2h3.2M498.4,387.59999999999997v3.2" stroke="#006400" stroke-width="1.3"/><circle cx="498.4" cy="389.2" r="1.4"/><path d="M504.7,389.2h3.2M506.3,387.59999999999997v3.2" stroke="#006400" stroke-width="1.3"/><circle cx="506.3" cy="389.2" r="1.4"/><path d="M512.6999999999999,389.2h3.2M514.3,387.59999999999997v3.2" stroke="#006400" stroke-width="1.3"/><circle cx="514.3" cy="389.2" r="1.4"/><path d="M521.0,389.2h3.2M522.6,387.59999999999997v3.2" stroke="#006400" stroke-width="1.3"/><circle cx="522.6" cy="389.2" r="1.4"/><path d="M529.1999999999999,389.2h3.2M530.8,387.59999999999997v3.2" stroke="#006400" stroke-width="1.3"/><circle cx="530.8" cy="389.2" r="1.4"/><path d="M536.4,389.2h3.2M538,387.59999999999997v3.2" stroke="#006400" stroke-width="1.3"/><circle cx="538" cy="389.2" r="1.4"/><path d="M545.4,389.2h3.2M547,387.59999999999997v3.2" stroke="#006400" stroke-width="1.3"/><circle cx="547" cy="389.2" r="1.4"/><path d="M552.6,389.2h3.2M554.2,387.59999999999997v3.2" stroke="#006400" stroke-width="1.3"/><circle cx="554.2" cy="389.2" r="1.4"/><path d="M558.8,389.2h3.2M560.4,387.59999999999997v3.2" stroke="#006400" stroke-width="1.3"/><circle cx="560.4" cy="389.2" r="1.4"/></g><path d="M484.5,299.5 L487.3,301.5 Q489.5,302.7 489.5,305.0 L489.5,392.8 Q489.5,396.3 493.0,396.3 L560.5,396.3 Q564,396.3 564,392.8 L564,305.0 Q564,302.7 566.2,301.5 L569,299.5" transform="translate(0.6,1.2)" fill="none" stroke="#9a9a9a" stroke-width="2" opacity="0.6"/><path d="M484.5,299.5 L487.3,301.5 Q489.5,302.7 489.5,305.0 L489.5,392.8 Q489.5,396.3 493.0,396.3 L560.5,396.3 Q564,396.3 564,392.8 L564,305.0 Q564,302.7 566.2,301.5 L569,299.5" fill="none" stroke="#1c1c1c" stroke-width="2.1" stroke-linejoin="round"/>
<line x1="568.8" y1="351.6" x2="647.1" y2="351.6" stroke="#333" stroke-width="2.5"/><polygon points="646.1,346.95000000000005 656.5,351.6 646.1,356.25" fill="#000"/>
<text x="584" y="342.8" font-size="12" textLength="46.5" lengthAdjust="spacingAndGlyphs" fill="#111">Standing</text>
<path d="M660.7,339 L735.2,339 L735.2,393.5 Q735.2,397 731.7,397 L664.2,397 Q660.7,397 660.7,393.5 Z" fill="#d2fcd2"/><path d="M660.7,378.5 L660.7,377.6 L662.7,377.7 L664.7,378.4 L666.7,378.4 L668.7,377.5 L670.7,377.3 L672.7,377.4 L674.7,378.2 L676.7,378.5 L678.7,378.5 L680.7,378.3 L682.7,377.6 L684.7,377.8 L686.7,377.3 L688.7,376.7 L690.7,375.8 L692.7,375.5 L694.7,375.8 L696.7,375.5 L698.7,376.3 L700.7,375.6 L702.7,376.3 L704.7,375.6 L706.7,375.5 L708.7,375.9 L710.7,375.5 L712.7,375.9 L714.7,375.5 L716.7,375.5 L718.7,376.0 L720.7,376.4 L722.7,377.0 L724.7,377.4 L726.7,376.7 L728.7,376.9 L730.7,377.3 L732.7,377.2 L734.7,378.0 L735.2,378.5 L735.2,393.5 Q735.2,397 731.7,397 L664.2,397 Q660.7,397 660.7,393.5 Z" fill="#005200"/><clipPath id="spc660377"><path d="M660.7,378.5 L660.7,377.6 L662.7,377.7 L664.7,378.4 L666.7,378.4 L668.7,377.5 L670.7,377.3 L672.7,377.4 L674.7,378.2 L676.7,378.5 L678.7,378.5 L680.7,378.3 L682.7,377.6 L684.7,377.8 L686.7,377.3 L688.7,376.7 L690.7,375.8 L692.7,375.5 L694.7,375.8 L696.7,375.5 L698.7,376.3 L700.7,375.6 L702.7,376.3 L704.7,375.6 L706.7,375.5 L708.7,375.9 L710.7,375.5 L712.7,375.9 L714.7,375.5 L716.7,375.5 L718.7,376.0 L720.7,376.4 L722.7,377.0 L724.7,377.4 L726.7,376.7 L728.7,376.9 L730.7,377.3 L732.7,377.2 L734.7,378.0 L735.2,378.5 L735.2,393.5 Q735.2,397 731.7,397 L664.2,397 Q660.7,397 660.7,393.5 Z"/></clipPath><g filter="url(#soft)" clip-path="url(#spc660377)"><path d="M664,376h1v1h-1zM665,376h1v1h-1zM668,376h1v1h-1zM671,376h1v1h-1zM674,376h1v1h-1zM679,376h1v1h-1zM691,376h1v1h-1zM709,376h1v1h-1zM715,376h1v1h-1zM726,376h1v1h-1zM667,377h1v1h-1zM685,377h1v1h-1zM686,377h1v1h-1zM689,377h1v1h-1zM692,377h1v1h-1zM696,377h1v1h-1zM697,377h1v1h-1zM710,377h1v1h-1zM713,377h1v1h-1zM714,377h1v1h-1zM720,377h1v1h-1zM723,377h1v1h-1zM732,377h1v1h-1zM662,378h1v1h-1zM668,378h1v1h-1zM673,378h1v1h-1zM674,378h1v1h-1zM681,378h1v1h-1zM684,378h1v1h-1zM686,378h1v1h-1zM688,378h1v1h-1zM690,378h1v1h-1zM693,378h1v1h-1zM699,378h1v1h-1zM701,378h1v1h-1zM710,378h1v1h-1zM712,378h1v1h-1zM715,378h1v1h-1zM719,378h1v1h-1zM723,378h1v1h-1zM727,378h1v1h-1zM729,378h1v1h-1zM667,379h1v1h-1zM670,379h1v1h-1zM674,379h1v1h-1zM677,379h1v1h-1zM678,379h1v1h-1zM686,379h1v1h-1zM691,379h1v1h-1zM692,379h1v1h-1zM702,379h1v1h-1zM706,379h1v1h-1zM712,379h1v1h-1zM720,379h1v1h-1zM723,379h1v1h-1zM727,379h1v1h-1zM661,380h1v1h-1zM668,380h1v1h-1zM672,380h1v1h-1zM675,380h1v1h-1zM676,380h1v1h-1zM679,380h1v1h-1zM684,380h1v1h-1zM687,380h1v1h-1zM688,380h1v1h-1zM692,380h1v1h-1zM694,380h1v1h-1zM697,380h1v1h-1zM700,380h1v1h-1zM719,380h1v1h-1zM728,380h1v1h-1zM731,380h1v1h-1zM732,380h1v1h-1zM666,381h1v1h-1zM681,381h1v1h-1zM688,381h1v1h-1zM689,381h1v1h-1zM690,381h1v1h-1zM695,381h1v1h-1zM713,381h1v1h-1zM723,381h1v1h-1zM724,381h1v1h-1zM727,381h1v1h-1zM731,381h1v1h-1zM661,382h1v1h-1zM676,382h1v1h-1zM678,382h1v1h-1zM703,382h1v1h-1zM706,382h1v1h-1zM715,382h1v1h-1zM716,382h1v1h-1zM733,382h1v1h-1zM678,383h1v1h-1zM685,383h1v1h-1zM696,383h1v1h-1zM701,383h1v1h-1zM715,383h1v1h-1zM716,383h1v1h-1zM718,383h1v1h-1zM719,383h1v1h-1zM725,383h1v1h-1zM726,383h1v1h-1zM731,383h1v1h-1zM733,383h1v1h-1zM665,384h1v1h-1zM672,384h1v1h-1zM698,384h1v1h-1zM702,384h1v1h-1zM703,384h1v1h-1zM710,384h1v1h-1zM713,384h1v1h-1zM715,384h1v1h-1zM718,384h1v1h-1zM722,384h1v1h-1zM732,384h1v1h-1zM668,385h1v1h-1zM678,385h1v1h-1zM683,385h1v1h-1zM688,385h1v1h-1zM691,385h1v1h-1zM699,385h1v1h-1zM701,385h1v1h-1zM713,385h1v1h-1zM717,385h1v1h-1zM718,385h1v1h-1zM719,385h1v1h-1zM723,385h1v1h-1zM734,385h1v1h-1zM664,386h1v1h-1zM667,386h1v1h-1zM669,386h1v1h-1zM674,386h1v1h-1zM680,386h1v1h-1zM689,386h1v1h-1zM694,386h1v1h-1zM696,386h1v1h-1zM705,386h1v1h-1zM710,386h1v1h-1zM721,386h1v1h-1zM727,386h1v1h-1zM733,386h1v1h-1zM663,387h1v1h-1zM668,387h1v1h-1zM672,387h1v1h-1zM673,387h1v1h-1zM674,387h1v1h-1zM677,387h1v1h-1zM681,387h1v1h-1zM686,387h1v1h-1zM694,387h1v1h-1zM695,387h1v1h-1zM703,387h1v1h-1zM716,387h1v1h-1zM725,387h1v1h-1zM728,387h1v1h-1zM730,387h1v1h-1zM733,387h1v1h-1zM734,387h1v1h-1zM664,388h1v1h-1zM678,388h1v1h-1zM684,388h1v1h-1zM694,388h1v1h-1zM705,388h1v1h-1zM709,388h1v1h-1zM717,388h1v1h-1zM721,388h1v1h-1zM724,388h1v1h-1zM731,388h1v1h-1zM734,388h1v1h-1zM662,389h1v1h-1zM668,389h1v1h-1zM671,389h1v1h-1zM678,389h1v1h-1zM680,389h1v1h-1zM683,389h1v1h-1zM695,389h1v1h-1zM701,389h1v1h-1zM706,389h1v1h-1zM708,389h1v1h-1zM711,389h1v1h-1zM719,389h1v1h-1zM720,389h1v1h-1zM721,389h1v1h-1zM728,389h1v1h-1zM734,389h1v1h-1zM662,390h1v1h-1zM666,390h1v1h-1zM672,390h1v1h-1zM677,390h1v1h-1zM682,390h1v1h-1zM683,390h1v1h-1zM689,390h1v1h-1zM692,390h1v1h-1zM695,390h1v1h-1zM696,390h1v1h-1zM706,390h1v1h-1zM727,390h1v1h-1zM662,391h1v1h-1zM663,391h1v1h-1zM669,391h1v1h-1zM670,391h1v1h-1zM679,391h1v1h-1zM687,391h1v1h-1zM692,391h1v1h-1zM693,391h1v1h-1zM706,391h1v1h-1zM710,391h1v1h-1zM723,391h1v1h-1zM725,391h1v1h-1zM732,391h1v1h-1zM662,392h1v1h-1zM666,392h1v1h-1zM667,392h1v1h-1zM668,392h1v1h-1zM670,392h1v1h-1zM691,392h1v1h-1zM692,392h1v1h-1zM700,392h1v1h-1zM701,392h1v1h-1zM702,392h1v1h-1zM703,392h1v1h-1zM709,392h1v1h-1zM713,392h1v1h-1zM714,392h1v1h-1zM725,392h1v1h-1zM727,392h1v1h-1zM731,392h1v1h-1zM675,393h1v1h-1zM685,393h1v1h-1zM700,393h1v1h-1zM701,393h1v1h-1zM703,393h1v1h-1zM705,393h1v1h-1zM707,393h1v1h-1zM708,393h1v1h-1zM710,393h1v1h-1zM716,393h1v1h-1zM720,393h1v1h-1zM724,393h1v1h-1zM725,393h1v1h-1zM729,393h1v1h-1zM731,393h1v1h-1zM661,394h1v1h-1zM664,394h1v1h-1zM676,394h1v1h-1zM677,394h1v1h-1zM682,394h1v1h-1zM698,394h1v1h-1zM700,394h1v1h-1zM708,394h1v1h-1zM712,394h1v1h-1zM719,394h1v1h-1zM672,395h1v1h-1zM686,395h1v1h-1zM690,395h1v1h-1zM691,395h1v1h-1zM693,395h1v1h-1zM698,395h1v1h-1zM706,395h1v1h-1zM714,395h1v1h-1zM717,395h1v1h-1zM724,395h1v1h-1zM732,395h1v1h-1zM680,396h1v1h-1zM687,396h1v1h-1zM702,396h1v1h-1zM707,396h1v1h-1zM709,396h1v1h-1zM711,396h1v1h-1zM712,396h1v1h-1zM715,396h1v1h-1zM719,396h1v1h-1zM726,396h1v1h-1zM729,396h1v1h-1z" fill="#b8e4b8"/><path d="M661,376h1v1h-1zM710,376h1v1h-1zM729,376h1v1h-1zM732,376h1v1h-1zM662,377h1v1h-1zM663,377h1v1h-1zM670,377h1v1h-1zM677,377h1v1h-1zM678,377h1v1h-1zM679,377h1v1h-1zM702,377h1v1h-1zM709,377h1v1h-1zM711,377h1v1h-1zM712,377h1v1h-1zM725,377h1v1h-1zM661,378h1v1h-1zM663,378h1v1h-1zM683,378h1v1h-1zM687,378h1v1h-1zM692,378h1v1h-1zM695,378h1v1h-1zM711,378h1v1h-1zM717,378h1v1h-1zM720,378h1v1h-1zM732,378h1v1h-1zM661,379h1v1h-1zM662,379h1v1h-1zM681,379h1v1h-1zM684,379h1v1h-1zM687,379h1v1h-1zM690,379h1v1h-1zM696,379h1v1h-1zM701,379h1v1h-1zM716,379h1v1h-1zM717,379h1v1h-1zM670,380h1v1h-1zM671,380h1v1h-1zM673,380h1v1h-1zM678,380h1v1h-1zM711,380h1v1h-1zM723,380h1v1h-1zM668,381h1v1h-1zM674,381h1v1h-1zM685,381h1v1h-1zM694,381h1v1h-1zM701,381h1v1h-1zM708,381h1v1h-1zM709,381h1v1h-1zM716,381h1v1h-1zM732,381h1v1h-1zM701,382h1v1h-1zM712,382h1v1h-1zM673,383h1v1h-1zM689,383h1v1h-1zM690,383h1v1h-1zM706,383h1v1h-1zM709,383h1v1h-1zM720,383h1v1h-1zM732,383h1v1h-1zM671,384h1v1h-1zM683,384h1v1h-1zM686,384h1v1h-1zM691,384h1v1h-1zM692,384h1v1h-1zM694,384h1v1h-1zM706,384h1v1h-1zM707,384h1v1h-1zM709,384h1v1h-1zM716,384h1v1h-1zM727,384h1v1h-1zM730,384h1v1h-1zM734,384h1v1h-1zM664,385h1v1h-1zM666,385h1v1h-1zM671,385h1v1h-1zM679,385h1v1h-1zM690,385h1v1h-1zM708,385h1v1h-1zM712,385h1v1h-1zM720,385h1v1h-1zM726,385h1v1h-1zM730,385h1v1h-1zM668,386h1v1h-1zM671,386h1v1h-1zM699,386h1v1h-1zM704,386h1v1h-1zM708,386h1v1h-1zM713,386h1v1h-1zM714,386h1v1h-1zM662,387h1v1h-1zM665,387h1v1h-1zM684,387h1v1h-1zM692,387h1v1h-1zM693,387h1v1h-1zM699,387h1v1h-1zM708,387h1v1h-1zM715,387h1v1h-1zM662,388h1v1h-1zM683,388h1v1h-1zM706,388h1v1h-1zM718,388h1v1h-1zM723,388h1v1h-1zM726,388h1v1h-1zM729,388h1v1h-1zM674,389h1v1h-1zM681,389h1v1h-1zM685,389h1v1h-1zM714,389h1v1h-1zM715,389h1v1h-1zM723,389h1v1h-1zM667,390h1v1h-1zM679,390h1v1h-1zM701,390h1v1h-1zM733,390h1v1h-1zM734,390h1v1h-1zM680,391h1v1h-1zM691,391h1v1h-1zM694,391h1v1h-1zM696,391h1v1h-1zM698,391h1v1h-1zM702,391h1v1h-1zM711,391h1v1h-1zM716,391h1v1h-1zM730,391h1v1h-1zM680,392h1v1h-1zM698,392h1v1h-1zM706,392h1v1h-1zM710,392h1v1h-1zM716,392h1v1h-1zM663,393h1v1h-1zM664,393h1v1h-1zM665,393h1v1h-1zM667,393h1v1h-1zM668,393h1v1h-1zM673,393h1v1h-1zM678,393h1v1h-1zM691,393h1v1h-1zM696,393h1v1h-1zM717,393h1v1h-1zM722,393h1v1h-1zM733,393h1v1h-1zM669,394h1v1h-1zM674,394h1v1h-1zM675,394h1v1h-1zM703,394h1v1h-1zM706,394h1v1h-1zM707,394h1v1h-1zM725,394h1v1h-1zM663,395h1v1h-1zM665,395h1v1h-1zM671,395h1v1h-1zM678,395h1v1h-1zM679,395h1v1h-1zM692,395h1v1h-1zM710,395h1v1h-1zM715,395h1v1h-1zM718,395h1v1h-1zM722,395h1v1h-1zM727,395h1v1h-1zM674,396h1v1h-1zM708,396h1v1h-1z" fill="#2f7f2f"/></g><path d="M655.7,299.5 L658.5,301.5 Q660.7,302.7 660.7,305.0 L660.7,393.5 Q660.7,397 664.2,397 L731.7,397 Q735.2,397 735.2,393.5 L735.2,305.0 Q735.2,302.7 737.4000000000001,301.5 L740.2,299.5" transform="translate(0.6,1.2)" fill="none" stroke="#9a9a9a" stroke-width="2" opacity="0.6"/><path d="M655.7,299.5 L658.5,301.5 Q660.7,302.7 660.7,305.0 L660.7,393.5 Q660.7,397 664.2,397 L731.7,397 Q735.2,397 735.2,393.5 L735.2,305.0 Q735.2,302.7 737.4000000000001,301.5 L740.2,299.5" fill="none" stroke="#1c1c1c" stroke-width="2.1" stroke-linejoin="round"/>
<line x1="738.8" y1="351.6" x2="817.4" y2="351.6" stroke="#333" stroke-width="2.5"/><polygon points="816.4,346.95000000000005 826.8,351.6 816.4,356.25" fill="#000"/>
<text x="752.3" y="343.6" font-size="12" textLength="55" lengthAdjust="spacingAndGlyphs" fill="#111">Centrifuge</text>
<text x="746.3" y="367" font-size="12" textLength="67.5" lengthAdjust="spacingAndGlyphs" fill="#111">Freeze-dried</text>
<use href="#sphere" transform="translate(886,350.2) scale(0.985)"/>
<g clip-path="url(#bclip)"><clipPath id="bclip"><circle cx="886" cy="350.2" r="46.5"/></clipPath><ellipse cx="872.5" cy="312.3" rx="5.7" ry="3.1" transform="rotate(-20 872.5 312.3)" fill="#d2ead2" opacity="0.7"/><rect x="871.8" y="312.8" width="1.3" height="1.3" fill="#40a040"/><rect x="871.4" y="310.8" width="1.3" height="1.3" fill="#d8a070"/><rect x="870.4" y="311.6" width="1.3" height="1.3" fill="#e8b060"/><rect x="871.6" y="312.5" width="1.3" height="1.3" fill="#d8a070"/><rect x="872.9" y="308.8" width="1.3" height="1.3" fill="#40a040"/><rect x="871.7" y="312.1" width="1.3" height="1.3" fill="#f4f4ec"/><rect x="870.6" y="311.4" width="1.3" height="1.3" fill="#d8a070"/><rect x="870.5" y="309.6" width="1.3" height="1.3" fill="#f4f4ec"/><rect x="870.0" y="313.8" width="1.3" height="1.3" fill="#f4f4ec"/><rect x="869.5" y="312.3" width="1.3" height="1.3" fill="#30a030"/><ellipse cx="899.4" cy="312.3" rx="5.7" ry="3.3" transform="rotate(25 899.4 312.3)" fill="#d2ead2" opacity="0.7"/><rect x="899.8" y="312.0" width="1.3" height="1.3" fill="#ffffff"/><rect x="901.8" y="313.1" width="1.3" height="1.3" fill="#a0c0e0"/><rect x="898.4" y="312.5" width="1.3" height="1.3" fill="#a0c0e0"/><rect x="898.1" y="311.9" width="1.3" height="1.3" fill="#f4f4ec"/><rect x="899.5" y="309.7" width="1.3" height="1.3" fill="#d8a070"/><rect x="896.7" y="313.1" width="1.3" height="1.3" fill="#f4f4ec"/><rect x="898.9" y="311.5" width="1.3" height="1.3" fill="#d8a070"/><rect x="899.1" y="311.3" width="1.3" height="1.3" fill="#f4f4ec"/><rect x="899.0" y="311.5" width="1.3" height="1.3" fill="#ffffff"/><rect x="898.7" y="311.7" width="1.3" height="1.3" fill="#30a030"/><ellipse cx="850.0" cy="329.1" rx="3.0" ry="6.0" transform="rotate(35 850.0 329.1)" fill="#d2ead2" opacity="0.7"/><rect x="846.8" y="327.5" width="1.3" height="1.3" fill="#d8a070"/><rect x="849.9" y="331.0" width="1.3" height="1.3" fill="#30a030"/><rect x="849.2" y="329.2" width="1.3" height="1.3" fill="#a0c0e0"/><rect x="850.9" y="330.8" width="1.3" height="1.3" fill="#30a030"/><rect x="849.5" y="328.9" width="1.3" height="1.3" fill="#e8b060"/><rect x="849.5" y="328.8" width="1.3" height="1.3" fill="#e8b060"/><rect x="847.5" y="329.7" width="1.3" height="1.3" fill="#40a040"/><rect x="849.0" y="327.0" width="1.3" height="1.3" fill="#d8a070"/><rect x="849.6" y="328.7" width="1.3" height="1.3" fill="#30a030"/><rect x="849.8" y="328.9" width="1.3" height="1.3" fill="#d8a070"/><circle cx="882.7" cy="324.6" r="5.2" fill="#d2ead2" opacity="0.8"/><rect x="881.7" y="325.1" width="1.3" height="1.3" fill="#ffffff"/><rect x="883.1" y="320.6" width="1.3" height="1.3" fill="#30a030"/><rect x="884.6" y="327.7" width="1.3" height="1.3" fill="#40a040"/><rect x="881.0" y="323.7" width="1.3" height="1.3" fill="#a0c0e0"/><rect x="881.5" y="323.0" width="1.3" height="1.3" fill="#e8b060"/><rect x="881.7" y="324.7" width="1.3" height="1.3" fill="#40a040"/><rect x="882.5" y="326.7" width="1.3" height="1.3" fill="#e8b060"/><rect x="882.3" y="324.7" width="1.3" height="1.3" fill="#f4f4ec"/><rect x="879.0" y="325.4" width="1.3" height="1.3" fill="#e8b060"/><rect x="883.8" y="324.4" width="1.3" height="1.3" fill="#30a030"/><circle cx="863.5" cy="338.1" r="5.2" fill="#d2ead2" opacity="0.8"/><rect x="867.4" y="335.2" width="1.3" height="1.3" fill="#ffffff"/><rect x="861.5" y="337.2" width="1.3" height="1.3" fill="#40a040"/><rect x="866.8" y="337.9" width="1.3" height="1.3" fill="#e8b060"/><rect x="863.4" y="338.8" width="1.3" height="1.3" fill="#40a040"/><rect x="860.7" y="335.9" width="1.3" height="1.3" fill="#e8b060"/><rect x="863.7" y="339.7" width="1.3" height="1.3" fill="#a0c0e0"/><rect x="866.2" y="334.9" width="1.3" height="1.3" fill="#f4f4ec"/><rect x="861.6" y="336.8" width="1.3" height="1.3" fill="#ffffff"/><rect x="859.0" y="334.7" width="1.3" height="1.3" fill="#40a040"/><rect x="863.2" y="338.2" width="1.3" height="1.3" fill="#40a040"/><circle cx="903.9" cy="332.5" r="5.2" fill="#d2ead2" opacity="0.8"/><rect x="904.9" y="332.4" width="1.3" height="1.3" fill="#d8a070"/><rect x="901.7" y="332.1" width="1.3" height="1.3" fill="#40a040"/><rect x="905.0" y="335.4" width="1.3" height="1.3" fill="#40a040"/><rect x="904.6" y="328.5" width="1.3" height="1.3" fill="#d8a070"/><rect x="905.6" y="333.4" width="1.3" height="1.3" fill="#a0c0e0"/><rect x="904.4" y="333.5" width="1.3" height="1.3" fill="#e8b060"/><rect x="905.8" y="332.4" width="1.3" height="1.3" fill="#e8b060"/><rect x="900.4" y="333.7" width="1.3" height="1.3" fill="#d8a070"/><rect x="901.8" y="331.0" width="1.3" height="1.3" fill="#40a040"/><rect x="902.8" y="328.2" width="1.3" height="1.3" fill="#40a040"/><ellipse cx="923.0" cy="330.2" rx="3.3" ry="6.0" transform="rotate(-28 923.0 330.2)" fill="#d2ead2" opacity="0.7"/><rect x="924.0" y="332.5" width="1.3" height="1.3" fill="#40a040"/><rect x="924.7" y="329.7" width="1.3" height="1.3" fill="#a0c0e0"/><rect x="921.9" y="329.7" width="1.3" height="1.3" fill="#e8b060"/><rect x="923.1" y="330.1" width="1.3" height="1.3" fill="#f4f4ec"/><rect x="920.6" y="329.7" width="1.3" height="1.3" fill="#e8b060"/><rect x="922.0" y="330.4" width="1.3" height="1.3" fill="#ffffff"/><rect x="920.7" y="329.2" width="1.3" height="1.3" fill="#40a040"/><rect x="923.4" y="329.3" width="1.3" height="1.3" fill="#ffffff"/><rect x="922.6" y="330.0" width="1.3" height="1.3" fill="#f4f4ec"/><rect x="922.2" y="327.8" width="1.3" height="1.3" fill="#f4f4ec"/><ellipse cx="844.4" cy="352.7" rx="3.0" ry="6.6" transform="rotate(0 844.4 352.7)" fill="#d2ead2" opacity="0.7"/><rect x="843.9" y="352.0" width="1.3" height="1.3" fill="#e8b060"/><rect x="841.1" y="352.3" width="1.3" height="1.3" fill="#ffffff"/><rect x="844.5" y="354.6" width="1.3" height="1.3" fill="#e8b060"/><rect x="843.8" y="351.5" width="1.3" height="1.3" fill="#40a040"/><rect x="845.3" y="352.0" width="1.3" height="1.3" fill="#ffffff"/><rect x="842.8" y="351.9" width="1.3" height="1.3" fill="#e8b060"/><rect x="845.6" y="353.1" width="1.3" height="1.3" fill="#f4f4ec"/><rect x="843.9" y="354.8" width="1.3" height="1.3" fill="#ffffff"/><rect x="843.8" y="351.9" width="1.3" height="1.3" fill="#f4f4ec"/><rect x="844.9" y="352.6" width="1.3" height="1.3" fill="#e8b060"/><circle cx="886.0" cy="350.4" r="5.2" fill="#d2ead2" opacity="0.8"/><rect x="888.4" y="350.6" width="1.3" height="1.3" fill="#30a030"/><rect x="886.1" y="351.1" width="1.3" height="1.3" fill="#e8b060"/><rect x="886.3" y="347.7" width="1.3" height="1.3" fill="#f4f4ec"/><rect x="890.1" y="350.1" width="1.3" height="1.3" fill="#d8a070"/><rect x="885.4" y="349.6" width="1.3" height="1.3" fill="#a0c0e0"/><rect x="885.5" y="353.5" width="1.3" height="1.3" fill="#30a030"/><rect x="887.4" y="353.3" width="1.3" height="1.3" fill="#a0c0e0"/><rect x="886.0" y="350.6" width="1.3" height="1.3" fill="#f4f4ec"/><rect x="884.0" y="346.5" width="1.3" height="1.3" fill="#e8b060"/><rect x="889.4" y="349.7" width="1.3" height="1.3" fill="#d8a070"/><circle cx="910.6" cy="353.7" r="5.2" fill="#d2ead2" opacity="0.8"/><rect x="912.6" y="353.8" width="1.3" height="1.3" fill="#40a040"/><rect x="913.2" y="351.1" width="1.3" height="1.3" fill="#30a030"/><rect x="914.0" y="354.8" width="1.3" height="1.3" fill="#e8b060"/><rect x="912.3" y="349.9" width="1.3" height="1.3" fill="#e8b060"/><rect x="907.2" y="349.2" width="1.3" height="1.3" fill="#ffffff"/><rect x="912.6" y="357.3" width="1.3" height="1.3" fill="#30a030"/><rect x="910.4" y="350.7" width="1.3" height="1.3" fill="#40a040"/><rect x="912.2" y="349.0" width="1.3" height="1.3" fill="#e8b060"/><rect x="909.9" y="349.0" width="1.3" height="1.3" fill="#a0c0e0"/><rect x="909.7" y="352.4" width="1.3" height="1.3" fill="#d8a070"/><ellipse cx="927.5" cy="356.0" rx="3.0" ry="6.0" transform="rotate(0 927.5 356.0)" fill="#d2ead2" opacity="0.7"/><rect x="928.1" y="353.0" width="1.3" height="1.3" fill="#a0c0e0"/><rect x="924.3" y="355.2" width="1.3" height="1.3" fill="#ffffff"/><rect x="923.6" y="354.8" width="1.3" height="1.3" fill="#e8b060"/><rect x="929.4" y="356.5" width="1.3" height="1.3" fill="#a0c0e0"/><rect x="926.8" y="358.3" width="1.3" height="1.3" fill="#f4f4ec"/><rect x="927.0" y="357.5" width="1.3" height="1.3" fill="#ffffff"/><rect x="927.0" y="357.1" width="1.3" height="1.3" fill="#30a030"/><rect x="927.0" y="355.3" width="1.3" height="1.3" fill="#30a030"/><rect x="927.5" y="352.7" width="1.3" height="1.3" fill="#30a030"/><rect x="927.0" y="354.2" width="1.3" height="1.3" fill="#d8a070"/><circle cx="862.5" cy="360.4" r="5.2" fill="#d2ead2" opacity="0.8"/><rect x="861.5" y="360.1" width="1.3" height="1.3" fill="#30a030"/><rect x="860.0" y="356.4" width="1.3" height="1.3" fill="#30a030"/><rect x="858.4" y="357.5" width="1.3" height="1.3" fill="#a0c0e0"/><rect x="861.4" y="361.3" width="1.3" height="1.3" fill="#ffffff"/><rect x="862.4" y="359.9" width="1.3" height="1.3" fill="#a0c0e0"/><rect x="859.8" y="360.2" width="1.3" height="1.3" fill="#40a040"/><rect x="860.2" y="360.3" width="1.3" height="1.3" fill="#f4f4ec"/><rect x="863.6" y="360.8" width="1.3" height="1.3" fill="#d8a070"/><rect x="860.8" y="358.8" width="1.3" height="1.3" fill="#e8b060"/><rect x="862.8" y="359.8" width="1.3" height="1.3" fill="#d8a070"/><circle cx="879.2" cy="373.9" r="5.2" fill="#d2ead2" opacity="0.8"/><rect x="876.4" y="374.8" width="1.3" height="1.3" fill="#f4f4ec"/><rect x="881.1" y="375.7" width="1.3" height="1.3" fill="#e8b060"/><rect x="875.4" y="376.5" width="1.3" height="1.3" fill="#d8a070"/><rect x="878.0" y="378.1" width="1.3" height="1.3" fill="#40a040"/><rect x="879.5" y="374.9" width="1.3" height="1.3" fill="#a0c0e0"/><rect x="875.2" y="370.5" width="1.3" height="1.3" fill="#d8a070"/><rect x="878.0" y="374.8" width="1.3" height="1.3" fill="#ffffff"/><rect x="879.4" y="370.4" width="1.3" height="1.3" fill="#a0c0e0"/><rect x="879.0" y="372.6" width="1.3" height="1.3" fill="#ffffff"/><rect x="882.9" y="373.6" width="1.3" height="1.3" fill="#e8b060"/><circle cx="900.6" cy="371.7" r="5.2" fill="#d2ead2" opacity="0.8"/><rect x="902.1" y="370.3" width="1.3" height="1.3" fill="#a0c0e0"/><rect x="897.9" y="368.0" width="1.3" height="1.3" fill="#30a030"/><rect x="902.2" y="372.7" width="1.3" height="1.3" fill="#a0c0e0"/><rect x="900.0" y="367.7" width="1.3" height="1.3" fill="#f4f4ec"/><rect x="904.0" y="369.1" width="1.3" height="1.3" fill="#30a030"/><rect x="897.8" y="372.4" width="1.3" height="1.3" fill="#40a040"/><rect x="895.5" y="372.7" width="1.3" height="1.3" fill="#40a040"/><rect x="898.8" y="374.4" width="1.3" height="1.3" fill="#30a030"/><rect x="898.1" y="372.9" width="1.3" height="1.3" fill="#30a030"/><rect x="903.0" y="372.3" width="1.3" height="1.3" fill="#d8a070"/><ellipse cx="859.0" cy="380.6" rx="6.0" ry="3.6" transform="rotate(45 859.0 380.6)" fill="#d2ead2" opacity="0.7"/><rect x="856.2" y="382.6" width="1.3" height="1.3" fill="#e8b060"/><rect x="860.6" y="377.8" width="1.3" height="1.3" fill="#e8b060"/><rect x="856.9" y="379.5" width="1.3" height="1.3" fill="#a0c0e0"/><rect x="857.9" y="380.0" width="1.3" height="1.3" fill="#ffffff"/><rect x="858.4" y="379.9" width="1.3" height="1.3" fill="#40a040"/><rect x="858.4" y="380.0" width="1.3" height="1.3" fill="#40a040"/><rect x="859.7" y="381.7" width="1.3" height="1.3" fill="#ffffff"/><rect x="854.9" y="379.9" width="1.3" height="1.3" fill="#f4f4ec"/><rect x="858.4" y="377.8" width="1.3" height="1.3" fill="#40a040"/><rect x="857.8" y="379.4" width="1.3" height="1.3" fill="#a0c0e0"/><ellipse cx="915.2" cy="382.9" rx="6.0" ry="3.6" transform="rotate(-45 915.2 382.9)" fill="#d2ead2" opacity="0.7"/><rect x="913.1" y="381.9" width="1.3" height="1.3" fill="#d8a070"/><rect x="912.9" y="380.0" width="1.3" height="1.3" fill="#30a030"/><rect x="913.5" y="381.0" width="1.3" height="1.3" fill="#30a030"/><rect x="912.5" y="384.7" width="1.3" height="1.3" fill="#40a040"/><rect x="915.6" y="384.0" width="1.3" height="1.3" fill="#a0c0e0"/><rect x="916.3" y="382.9" width="1.3" height="1.3" fill="#f4f4ec"/><rect x="915.4" y="385.0" width="1.3" height="1.3" fill="#e8b060"/><rect x="915.9" y="384.5" width="1.3" height="1.3" fill="#f4f4ec"/><rect x="913.2" y="379.4" width="1.3" height="1.3" fill="#ffffff"/><rect x="914.2" y="383.6" width="1.3" height="1.3" fill="#40a040"/><ellipse cx="889.3" cy="390.8" rx="6.0" ry="3.0" transform="rotate(0 889.3 390.8)" fill="#d2ead2" opacity="0.7"/><rect x="889.4" y="390.0" width="1.3" height="1.3" fill="#40a040"/><rect x="890.0" y="389.1" width="1.3" height="1.3" fill="#ffffff"/><rect x="888.1" y="391.6" width="1.3" height="1.3" fill="#e8b060"/><rect x="888.2" y="389.0" width="1.3" height="1.3" fill="#40a040"/><rect x="886.2" y="392.4" width="1.3" height="1.3" fill="#40a040"/><rect x="891.2" y="392.3" width="1.3" height="1.3" fill="#ffffff"/><rect x="886.0" y="391.1" width="1.3" height="1.3" fill="#30a030"/><rect x="890.4" y="392.8" width="1.3" height="1.3" fill="#e8b060"/><rect x="890.3" y="392.3" width="1.3" height="1.3" fill="#d8a070"/><rect x="887.2" y="387.7" width="1.3" height="1.3" fill="#d8a070"/></g>
<text x="166.15" y="426.10" font-size="16.25" font-weight="bold" textLength="34.97" lengthAdjust="spacingAndGlyphs" fill="#111">Acid</text>
<text x="286.05" y="425.80" font-size="14.33" font-weight="bold" textLength="131.79" lengthAdjust="spacingAndGlyphs" fill="#111">rhBMP-2 solution</text>
<text x="480.60" y="424.30" font-size="15.67" font-weight="bold" textLength="89.03" lengthAdjust="spacingAndGlyphs" fill="#111">Suspension</text>
<text x="648.03" y="423.90" font-size="15.67" font-weight="bold" textLength="96.61" lengthAdjust="spacingAndGlyphs" fill="#111">Precipitation</text>
<text x="819.55" y="421.40" font-size="15.23" font-weight="bold" textLength="126.63" lengthAdjust="spacingAndGlyphs" fill="#111">MCS-15/rhBMP-2</text>
<text x="23.8" y="459.2" font-size="13" fill="#111" stroke="#111" stroke-width="0.25" textLength="793.7" lengthAdjust="spacingAndGlyphs"><tspan font-weight="bold">Figure 1</tspan> Schematic diagram showing the preparation process of (<tspan font-weight="bold">A</tspan>) MCS-15 with mesoporous structure and (<tspan font-weight="bold">B</tspan>) MCS-15/rhBMP-2 system.</text>
</svg></body></html>
